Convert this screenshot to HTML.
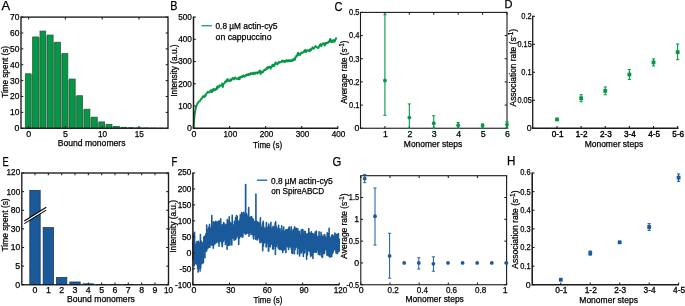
<!DOCTYPE html>
<html><head><meta charset="utf-8"><title>Figure</title>
<style>
html,body{margin:0;padding:0;background:#fff;}
svg{display:block;font-family:'Liberation Sans', sans-serif;}
text{stroke:#000;stroke-width:0.25px;}
</style></head>
<body>
<svg width="685" height="306" viewBox="0 0 685 306">
<rect width="685" height="306" fill="#fff"/>
<text x="1.40" y="10.00" font-size="12.9" text-anchor="start" fill="#000" textLength="8.60" lengthAdjust="spacingAndGlyphs">A</text>
<rect x="28.15" y="74.19" width="7.36" height="54.06" fill="#a9aeab"/>
<rect x="35.51" y="37.35" width="7.36" height="90.90" fill="#a9aeab"/>
<rect x="42.87" y="35.44" width="7.36" height="92.81" fill="#a9aeab"/>
<rect x="50.23" y="42.59" width="7.36" height="85.66" fill="#a9aeab"/>
<rect x="57.59" y="54.02" width="7.36" height="74.23" fill="#a9aeab"/>
<rect x="64.95" y="79.43" width="7.36" height="48.82" fill="#a9aeab"/>
<rect x="72.31" y="96.10" width="7.36" height="32.15" fill="#a9aeab"/>
<rect x="79.67" y="109.60" width="7.36" height="18.65" fill="#a9aeab"/>
<rect x="87.03" y="117.54" width="7.36" height="10.71" fill="#a9aeab"/>
<rect x="94.39" y="122.30" width="7.36" height="5.95" fill="#a9aeab"/>
<rect x="101.75" y="124.68" width="7.36" height="3.57" fill="#a9aeab"/>
<rect x="109.11" y="126.74" width="7.36" height="1.51" fill="#a9aeab"/>
<rect x="116.47" y="127.70" width="7.36" height="0.55" fill="#a9aeab"/>
<rect x="123.83" y="128.09" width="7.36" height="0.16" fill="#a9aeab"/>
<rect x="131.19" y="128.25" width="7.36" height="-0.00" fill="#a9aeab"/>
<rect x="138.55" y="128.33" width="7.36" height="-0.08" fill="#a9aeab"/>
<rect x="145.91" y="128.41" width="7.36" height="-0.16" fill="#a9aeab"/>
<rect x="153.27" y="128.49" width="7.36" height="-0.24" fill="#a9aeab"/>
<rect x="25.28" y="73.79" width="5.75" height="54.46" fill="#039846" stroke="#1f5c3a" stroke-width="0.75"/>
<rect x="32.64" y="36.95" width="5.75" height="91.30" fill="#039846" stroke="#1f5c3a" stroke-width="0.75"/>
<rect x="40.00" y="31.07" width="5.75" height="97.18" fill="#039846" stroke="#1f5c3a" stroke-width="0.75"/>
<rect x="47.36" y="35.04" width="5.75" height="93.21" fill="#039846" stroke="#1f5c3a" stroke-width="0.75"/>
<rect x="54.72" y="42.19" width="5.75" height="86.06" fill="#039846" stroke="#1f5c3a" stroke-width="0.75"/>
<rect x="62.08" y="53.62" width="5.75" height="74.63" fill="#039846" stroke="#1f5c3a" stroke-width="0.75"/>
<rect x="69.44" y="79.03" width="5.75" height="49.22" fill="#039846" stroke="#1f5c3a" stroke-width="0.75"/>
<rect x="76.80" y="95.70" width="5.75" height="32.55" fill="#039846" stroke="#1f5c3a" stroke-width="0.75"/>
<rect x="84.16" y="109.20" width="5.75" height="19.05" fill="#039846" stroke="#1f5c3a" stroke-width="0.75"/>
<rect x="91.52" y="117.14" width="5.75" height="11.12" fill="#039846" stroke="#1f5c3a" stroke-width="0.75"/>
<rect x="98.88" y="121.90" width="5.75" height="6.35" fill="#039846" stroke="#1f5c3a" stroke-width="0.75"/>
<rect x="106.24" y="124.28" width="5.75" height="3.97" fill="#039846" stroke="#1f5c3a" stroke-width="0.75"/>
<rect x="113.60" y="126.34" width="5.75" height="1.91" fill="#039846" stroke="#1f5c3a" stroke-width="0.75"/>
<rect x="120.96" y="127.30" width="5.75" height="0.95" fill="#039846" stroke="#1f5c3a" stroke-width="0.75"/>
<rect x="128.31" y="127.69" width="5.75" height="0.56" fill="#039846" stroke="#1f5c3a" stroke-width="0.75"/>
<rect x="135.68" y="127.85" width="5.75" height="0.40" fill="#039846" stroke="#1f5c3a" stroke-width="0.75"/>
<rect x="143.03" y="127.93" width="5.75" height="0.32" fill="#039846" stroke="#1f5c3a" stroke-width="0.75"/>
<rect x="150.40" y="128.01" width="5.75" height="0.24" fill="#039846" stroke="#1f5c3a" stroke-width="0.75"/>
<rect x="157.76" y="128.09" width="5.75" height="0.16" fill="#039846" stroke="#1f5c3a" stroke-width="0.75"/>
<rect x="21.00" y="17.10" width="147.00" height="111.15" fill="none" stroke="#1a1a1a" stroke-width="1.35"/>
<line x1="21.00" y1="128.25" x2="23.30" y2="128.25" stroke="#1a1a1a" stroke-width="1.05" stroke-linecap="butt"/>
<line x1="168.00" y1="128.25" x2="165.70" y2="128.25" stroke="#1a1a1a" stroke-width="1.05" stroke-linecap="butt"/>
<text x="19.40" y="131.15" font-size="8.8" text-anchor="end" fill="#000">0</text>
<line x1="21.00" y1="112.37" x2="23.30" y2="112.37" stroke="#1a1a1a" stroke-width="1.05" stroke-linecap="butt"/>
<line x1="168.00" y1="112.37" x2="165.70" y2="112.37" stroke="#1a1a1a" stroke-width="1.05" stroke-linecap="butt"/>
<text x="19.40" y="115.27" font-size="8.8" text-anchor="end" fill="#000" textLength="9.40" lengthAdjust="spacingAndGlyphs">10</text>
<line x1="21.00" y1="96.49" x2="23.30" y2="96.49" stroke="#1a1a1a" stroke-width="1.05" stroke-linecap="butt"/>
<line x1="168.00" y1="96.49" x2="165.70" y2="96.49" stroke="#1a1a1a" stroke-width="1.05" stroke-linecap="butt"/>
<text x="19.40" y="99.39" font-size="8.8" text-anchor="end" fill="#000" textLength="9.40" lengthAdjust="spacingAndGlyphs">20</text>
<line x1="21.00" y1="80.61" x2="23.30" y2="80.61" stroke="#1a1a1a" stroke-width="1.05" stroke-linecap="butt"/>
<line x1="168.00" y1="80.61" x2="165.70" y2="80.61" stroke="#1a1a1a" stroke-width="1.05" stroke-linecap="butt"/>
<text x="19.40" y="83.51" font-size="8.8" text-anchor="end" fill="#000" textLength="9.40" lengthAdjust="spacingAndGlyphs">30</text>
<line x1="21.00" y1="64.74" x2="23.30" y2="64.74" stroke="#1a1a1a" stroke-width="1.05" stroke-linecap="butt"/>
<line x1="168.00" y1="64.74" x2="165.70" y2="64.74" stroke="#1a1a1a" stroke-width="1.05" stroke-linecap="butt"/>
<text x="19.40" y="67.64" font-size="8.8" text-anchor="end" fill="#000" textLength="9.40" lengthAdjust="spacingAndGlyphs">40</text>
<line x1="21.00" y1="48.86" x2="23.30" y2="48.86" stroke="#1a1a1a" stroke-width="1.05" stroke-linecap="butt"/>
<line x1="168.00" y1="48.86" x2="165.70" y2="48.86" stroke="#1a1a1a" stroke-width="1.05" stroke-linecap="butt"/>
<text x="19.40" y="51.76" font-size="8.8" text-anchor="end" fill="#000" textLength="9.40" lengthAdjust="spacingAndGlyphs">50</text>
<line x1="21.00" y1="32.98" x2="23.30" y2="32.98" stroke="#1a1a1a" stroke-width="1.05" stroke-linecap="butt"/>
<line x1="168.00" y1="32.98" x2="165.70" y2="32.98" stroke="#1a1a1a" stroke-width="1.05" stroke-linecap="butt"/>
<text x="19.40" y="35.88" font-size="8.8" text-anchor="end" fill="#000" textLength="9.40" lengthAdjust="spacingAndGlyphs">60</text>
<line x1="21.00" y1="17.10" x2="23.30" y2="17.10" stroke="#1a1a1a" stroke-width="1.05" stroke-linecap="butt"/>
<line x1="168.00" y1="17.10" x2="165.70" y2="17.10" stroke="#1a1a1a" stroke-width="1.05" stroke-linecap="butt"/>
<text x="19.40" y="19.50" font-size="8.8" text-anchor="end" fill="#000" textLength="9.40" lengthAdjust="spacingAndGlyphs">70</text>
<line x1="28.60" y1="128.25" x2="28.60" y2="125.95" stroke="#1a1a1a" stroke-width="1.05" stroke-linecap="butt"/>
<line x1="28.60" y1="17.10" x2="28.60" y2="19.40" stroke="#1a1a1a" stroke-width="1.05" stroke-linecap="butt"/>
<text x="28.60" y="137.45" font-size="8.8" text-anchor="middle" fill="#000">0</text>
<line x1="65.40" y1="128.25" x2="65.40" y2="125.95" stroke="#1a1a1a" stroke-width="1.05" stroke-linecap="butt"/>
<line x1="65.40" y1="17.10" x2="65.40" y2="19.40" stroke="#1a1a1a" stroke-width="1.05" stroke-linecap="butt"/>
<text x="65.40" y="137.45" font-size="8.8" text-anchor="middle" fill="#000">5</text>
<line x1="102.20" y1="128.25" x2="102.20" y2="125.95" stroke="#1a1a1a" stroke-width="1.05" stroke-linecap="butt"/>
<line x1="102.20" y1="17.10" x2="102.20" y2="19.40" stroke="#1a1a1a" stroke-width="1.05" stroke-linecap="butt"/>
<text x="102.50" y="137.45" font-size="8.8" text-anchor="middle" fill="#000" textLength="9.10" lengthAdjust="spacingAndGlyphs">10</text>
<line x1="139.00" y1="128.25" x2="139.00" y2="125.95" stroke="#1a1a1a" stroke-width="1.05" stroke-linecap="butt"/>
<line x1="139.00" y1="17.10" x2="139.00" y2="19.40" stroke="#1a1a1a" stroke-width="1.05" stroke-linecap="butt"/>
<text x="139.30" y="137.45" font-size="8.8" text-anchor="middle" fill="#000" textLength="9.10" lengthAdjust="spacingAndGlyphs">15</text>
<text x="7.70" y="71.90" font-size="8.2" text-anchor="middle" fill="#000" textLength="51.70" lengthAdjust="spacingAndGlyphs" transform="rotate(-90 7.70 71.90)">Time spent (s)</text>
<text x="91.60" y="146.00" font-size="8.8" text-anchor="middle" fill="#000" textLength="67.80" lengthAdjust="spacingAndGlyphs">Bound monomers</text>
<text x="170.20" y="10.30" font-size="12.9" text-anchor="start" fill="#000" textLength="7.20" lengthAdjust="spacingAndGlyphs">B</text>
<polyline fill="none" stroke="#039846" stroke-width="1.9" stroke-linejoin="round" points="193.5,128.2 193.9,123.0 194.2,118.7 194.6,114.9 194.9,112.7 195.3,110.6 195.6,108.7 196.0,107.4 196.4,106.0 196.7,105.1 197.1,104.2 197.4,103.8 197.8,103.0 198.1,102.8 198.5,102.1 198.9,101.5 199.2,101.4 199.6,101.3 199.9,101.2 200.3,100.3 200.6,99.6 201.0,99.1 201.4,98.5 201.7,98.7 202.1,98.0 202.4,97.2 202.8,96.3 203.1,96.6 203.5,96.3 203.9,96.9 204.2,96.2 204.6,96.9 204.9,96.6 205.3,94.7 205.6,95.8 206.0,94.2 206.4,93.6 206.7,93.6 207.1,92.9 207.4,92.4 207.8,91.7 208.1,92.1 208.5,92.4 208.9,92.5 209.2,92.6 209.6,91.9 209.9,92.0 210.3,90.5 210.6,91.8 211.0,91.7 211.4,91.5 211.7,92.1 212.1,89.6 212.4,91.4 212.8,90.8 213.1,90.6 213.5,88.9 213.9,90.6 214.2,89.3 214.6,89.9 214.9,89.7 215.3,89.9 215.6,88.9 216.0,89.5 216.4,88.9 216.7,88.2 217.1,86.7 217.4,88.8 217.8,87.0 218.1,86.3 218.5,86.9 218.9,86.5 219.2,86.8 219.6,85.2 219.9,85.4 220.3,85.6 220.6,85.7 221.0,85.5 221.4,85.3 221.7,85.6 222.1,83.5 222.4,85.1 222.8,87.0 223.1,85.4 223.5,84.5 223.9,83.5 224.2,83.3 224.6,83.0 224.9,82.4 225.3,81.5 225.6,82.0 226.0,82.0 226.4,80.2 226.7,80.2 227.1,81.2 227.4,79.2 227.8,79.2 228.1,80.0 228.5,80.8 228.9,80.2 229.2,80.6 229.6,80.9 229.9,81.2 230.3,80.8 230.6,79.3 231.0,79.7 231.4,80.5 231.7,79.4 232.1,79.2 232.4,78.5 232.8,77.9 233.1,78.5 233.5,78.7 233.9,78.7 234.2,79.4 234.6,78.5 234.9,77.4 235.3,77.7 235.6,78.1 236.0,78.3 236.4,78.7 236.7,78.9 237.1,78.6 237.4,78.8 237.8,78.5 238.1,79.1 238.5,78.0 238.9,77.6 239.2,78.3 239.6,79.3 239.9,78.2 240.3,76.8 240.6,77.3 241.0,77.4 241.4,77.4 241.7,76.5 242.1,77.1 242.4,76.0 242.8,76.3 243.1,75.5 243.5,75.7 243.9,76.0 244.2,76.9 244.6,76.8 244.9,76.3 245.3,75.4 245.6,75.2 246.0,75.7 246.4,75.1 246.7,74.4 247.1,74.7 247.4,75.1 247.8,75.2 248.1,74.3 248.5,74.0 248.9,74.9 249.2,74.3 249.6,74.6 249.9,74.8 250.3,73.5 250.6,73.1 251.0,73.9 251.4,73.7 251.7,73.3 252.1,73.8 252.4,73.6 252.8,73.0 253.1,74.4 253.5,73.6 253.9,72.8 254.2,72.6 254.6,73.8 254.9,73.2 255.3,73.7 255.6,72.9 256.0,72.5 256.4,72.5 256.7,73.2 257.1,73.4 257.4,72.5 257.8,73.2 258.1,72.6 258.5,72.2 258.9,72.6 259.2,70.9 259.6,71.6 259.9,70.5 260.3,72.9 260.6,74.0 261.0,72.2 261.4,71.5 261.7,71.7 262.1,71.5 262.4,72.6 262.8,72.1 263.1,72.1 263.5,71.4 263.9,70.2 264.2,70.0 264.6,69.6 264.9,70.1 265.3,70.1 265.6,69.6 266.0,69.5 266.4,68.3 266.7,69.1 267.1,67.5 267.4,68.6 267.8,67.6 268.1,68.3 268.5,66.9 268.9,67.2 269.2,67.0 269.6,66.6 269.9,67.3 270.3,67.8 270.6,68.7 271.0,66.7 271.4,67.0 271.7,67.0 272.1,66.4 272.4,64.6 272.8,66.3 273.1,65.6 273.5,65.6 273.9,64.8 274.2,66.0 274.6,65.5 274.9,64.3 275.3,63.0 275.6,62.3 276.0,63.5 276.4,63.4 276.7,63.4 277.1,64.2 277.4,64.5 277.8,63.1 278.1,62.7 278.5,62.8 278.9,61.8 279.2,62.9 279.6,62.3 279.9,62.3 280.3,62.4 280.6,62.0 281.0,62.0 281.4,61.9 281.7,61.8 282.1,60.5 282.4,61.5 282.8,60.9 283.1,60.9 283.5,61.6 283.9,61.1 284.2,61.9 284.6,60.9 284.9,61.7 285.3,61.9 285.6,61.4 286.0,60.7 286.4,60.3 286.7,60.0 287.1,60.6 287.4,61.4 287.8,60.7 288.1,60.5 288.5,61.3 288.9,60.2 289.2,60.2 289.6,61.0 289.9,60.3 290.3,61.2 290.6,61.2 291.0,60.3 291.4,61.1 291.7,60.4 292.1,60.9 292.4,59.6 292.8,60.0 293.1,59.4 293.5,60.3 293.9,59.8 294.2,58.6 294.6,58.3 294.9,59.7 295.3,58.0 295.6,56.9 296.0,57.1 296.4,55.6 296.7,56.4 297.1,55.9 297.4,54.5 297.8,53.4 298.1,52.7 298.5,53.8 298.9,55.0 299.2,54.0 299.6,54.8 299.9,54.2 300.3,54.7 300.6,53.3 301.0,52.7 301.4,52.5 301.7,52.8 302.1,52.9 302.4,53.0 302.8,52.5 303.1,52.3 303.5,51.9 303.9,52.2 304.2,50.7 304.6,50.9 304.9,50.2 305.3,49.8 305.6,51.0 306.0,52.1 306.4,50.5 306.7,50.8 307.1,50.5 307.4,50.5 307.8,50.2 308.1,50.9 308.5,50.4 308.9,50.4 309.2,50.0 309.6,51.3 309.9,49.7 310.3,49.2 310.6,50.3 311.0,50.1 311.4,49.4 311.7,48.6 312.1,48.5 312.4,47.4 312.8,47.8 313.1,48.7 313.5,48.8 313.9,47.8 314.2,48.2 314.6,47.2 314.9,46.6 315.3,46.5 315.6,46.1 316.0,46.7 316.4,46.8 316.7,47.2 317.1,47.3 317.4,48.0 317.8,47.6 318.1,47.7 318.5,47.9 318.9,46.8 319.2,46.0 319.6,46.1 319.9,44.8 320.3,44.5 320.6,44.1 321.0,45.1 321.4,46.1 321.7,45.1 322.1,44.6 322.4,44.1 322.8,43.9 323.1,43.2 323.5,43.8 323.9,43.4 324.2,44.2 324.6,45.6 324.9,44.9 325.3,43.0 325.6,44.3 326.0,43.0 326.4,43.4 326.7,43.4 327.1,43.0 327.4,42.6 327.8,43.1 328.1,42.6 328.5,42.0 328.9,41.3 329.2,42.1 329.6,40.7 329.9,39.7 330.3,38.8 330.6,40.9 331.0,40.9 331.4,42.2 331.7,41.2 332.1,40.5 332.4,41.3 332.8,41.9 333.1,40.9 333.5,40.0 333.9,40.5 334.2,40.3 334.6,41.7 334.9,41.1 335.3,40.0 335.6,39.5 336.0,38.1 336.4,39.3"/>
<path d="M193.50 16.60V128.25H338.30" fill="none" stroke="#1a1a1a" stroke-width="1.5" stroke-linejoin="miter"/>
<line x1="193.50" y1="128.25" x2="195.80" y2="128.25" stroke="#1a1a1a" stroke-width="1.05" stroke-linecap="butt"/>
<text x="191.90" y="131.15" font-size="8.8" text-anchor="end" fill="#000">0</text>
<line x1="193.50" y1="106.02" x2="195.80" y2="106.02" stroke="#1a1a1a" stroke-width="1.05" stroke-linecap="butt"/>
<text x="191.90" y="108.92" font-size="8.8" text-anchor="end" fill="#000" textLength="13.65" lengthAdjust="spacingAndGlyphs">100</text>
<line x1="193.50" y1="83.79" x2="195.80" y2="83.79" stroke="#1a1a1a" stroke-width="1.05" stroke-linecap="butt"/>
<text x="191.90" y="86.69" font-size="8.8" text-anchor="end" fill="#000" textLength="13.65" lengthAdjust="spacingAndGlyphs">200</text>
<line x1="193.50" y1="61.56" x2="195.80" y2="61.56" stroke="#1a1a1a" stroke-width="1.05" stroke-linecap="butt"/>
<text x="191.90" y="64.46" font-size="8.8" text-anchor="end" fill="#000" textLength="13.65" lengthAdjust="spacingAndGlyphs">300</text>
<line x1="193.50" y1="39.33" x2="195.80" y2="39.33" stroke="#1a1a1a" stroke-width="1.05" stroke-linecap="butt"/>
<text x="191.90" y="42.23" font-size="8.8" text-anchor="end" fill="#000" textLength="13.65" lengthAdjust="spacingAndGlyphs">400</text>
<line x1="193.50" y1="17.10" x2="195.80" y2="17.10" stroke="#1a1a1a" stroke-width="1.05" stroke-linecap="butt"/>
<text x="191.90" y="19.50" font-size="8.8" text-anchor="end" fill="#000" textLength="13.65" lengthAdjust="spacingAndGlyphs">500</text>
<line x1="193.50" y1="128.25" x2="193.50" y2="125.95" stroke="#1a1a1a" stroke-width="1.05" stroke-linecap="butt"/>
<text x="194.00" y="137.45" font-size="8.8" text-anchor="middle" fill="#000">0</text>
<line x1="229.57" y1="128.25" x2="229.57" y2="125.95" stroke="#1a1a1a" stroke-width="1.05" stroke-linecap="butt"/>
<text x="230.38" y="137.45" font-size="8.8" text-anchor="middle" fill="#000" textLength="13.65" lengthAdjust="spacingAndGlyphs">100</text>
<line x1="265.65" y1="128.25" x2="265.65" y2="125.95" stroke="#1a1a1a" stroke-width="1.05" stroke-linecap="butt"/>
<text x="266.45" y="137.45" font-size="8.8" text-anchor="middle" fill="#000" textLength="13.65" lengthAdjust="spacingAndGlyphs">200</text>
<line x1="301.73" y1="128.25" x2="301.73" y2="125.95" stroke="#1a1a1a" stroke-width="1.05" stroke-linecap="butt"/>
<text x="302.53" y="137.45" font-size="8.8" text-anchor="middle" fill="#000" textLength="13.65" lengthAdjust="spacingAndGlyphs">300</text>
<line x1="337.80" y1="128.25" x2="337.80" y2="125.95" stroke="#1a1a1a" stroke-width="1.05" stroke-linecap="butt"/>
<text x="338.60" y="137.45" font-size="8.8" text-anchor="middle" fill="#000" textLength="13.65" lengthAdjust="spacingAndGlyphs">400</text>
<text x="177.00" y="70.60" font-size="8.2" text-anchor="middle" fill="#000" textLength="52.30" lengthAdjust="spacingAndGlyphs" transform="rotate(-90 177.00 70.60)">Intensity (a.u.)</text>
<text x="267.60" y="147.60" font-size="8.8" text-anchor="middle" fill="#000" textLength="29.10" lengthAdjust="spacingAndGlyphs">Time (s)</text>
<line x1="201.60" y1="25.70" x2="211.80" y2="25.70" stroke="#28a75f" stroke-width="1.4" stroke-linecap="butt"/>
<text y="29.0" font-size="8.8" fill="#000"><tspan x="215.5" textLength="25.4" lengthAdjust="spacingAndGlyphs">0.8 µM</tspan> <tspan x="243.3" textLength="34.1" lengthAdjust="spacingAndGlyphs">actin-cy5</tspan></text>
<text x="215.60" y="39.70" font-size="8.8" text-anchor="start" fill="#000" textLength="55.90" lengthAdjust="spacingAndGlyphs">on cappuccino</text>
<text x="334.60" y="10.50" font-size="12.9" text-anchor="start" fill="#000" textLength="8.00" lengthAdjust="spacingAndGlyphs">C</text>
<rect x="360.50" y="12.40" width="146.50" height="115.85" fill="none" stroke="#1a1a1a" stroke-width="1.1"/>
<line x1="360.50" y1="128.25" x2="362.80" y2="128.25" stroke="#1a1a1a" stroke-width="1.05" stroke-linecap="butt"/>
<line x1="507.00" y1="128.25" x2="504.70" y2="128.25" stroke="#1a1a1a" stroke-width="1.05" stroke-linecap="butt"/>
<text x="359.50" y="131.15" font-size="8.8" text-anchor="end" fill="#000">0</text>
<line x1="360.50" y1="105.08" x2="362.80" y2="105.08" stroke="#1a1a1a" stroke-width="1.05" stroke-linecap="butt"/>
<line x1="507.00" y1="105.08" x2="504.70" y2="105.08" stroke="#1a1a1a" stroke-width="1.05" stroke-linecap="butt"/>
<text x="359.50" y="107.98" font-size="8.8" text-anchor="end" fill="#000" textLength="10.40" lengthAdjust="spacingAndGlyphs">0.1</text>
<line x1="360.50" y1="81.91" x2="362.80" y2="81.91" stroke="#1a1a1a" stroke-width="1.05" stroke-linecap="butt"/>
<line x1="507.00" y1="81.91" x2="504.70" y2="81.91" stroke="#1a1a1a" stroke-width="1.05" stroke-linecap="butt"/>
<text x="359.50" y="84.81" font-size="8.8" text-anchor="end" fill="#000" textLength="10.40" lengthAdjust="spacingAndGlyphs">0.2</text>
<line x1="360.50" y1="58.74" x2="362.80" y2="58.74" stroke="#1a1a1a" stroke-width="1.05" stroke-linecap="butt"/>
<line x1="507.00" y1="58.74" x2="504.70" y2="58.74" stroke="#1a1a1a" stroke-width="1.05" stroke-linecap="butt"/>
<text x="359.50" y="61.64" font-size="8.8" text-anchor="end" fill="#000" textLength="10.40" lengthAdjust="spacingAndGlyphs">0.3</text>
<line x1="360.50" y1="35.57" x2="362.80" y2="35.57" stroke="#1a1a1a" stroke-width="1.05" stroke-linecap="butt"/>
<line x1="507.00" y1="35.57" x2="504.70" y2="35.57" stroke="#1a1a1a" stroke-width="1.05" stroke-linecap="butt"/>
<text x="359.50" y="38.47" font-size="8.8" text-anchor="end" fill="#000" textLength="10.40" lengthAdjust="spacingAndGlyphs">0.4</text>
<line x1="360.50" y1="12.40" x2="362.80" y2="12.40" stroke="#1a1a1a" stroke-width="1.05" stroke-linecap="butt"/>
<line x1="507.00" y1="12.40" x2="504.70" y2="12.40" stroke="#1a1a1a" stroke-width="1.05" stroke-linecap="butt"/>
<text x="359.50" y="14.80" font-size="8.8" text-anchor="end" fill="#000" textLength="10.40" lengthAdjust="spacingAndGlyphs">0.5</text>
<line x1="384.92" y1="128.25" x2="384.92" y2="125.95" stroke="#1a1a1a" stroke-width="1.05" stroke-linecap="butt"/>
<line x1="384.92" y1="12.40" x2="384.92" y2="14.70" stroke="#1a1a1a" stroke-width="1.05" stroke-linecap="butt"/>
<text x="385.42" y="137.45" font-size="8.8" text-anchor="middle" fill="#000">1</text>
<line x1="409.33" y1="128.25" x2="409.33" y2="125.95" stroke="#1a1a1a" stroke-width="1.05" stroke-linecap="butt"/>
<line x1="409.33" y1="12.40" x2="409.33" y2="14.70" stroke="#1a1a1a" stroke-width="1.05" stroke-linecap="butt"/>
<text x="409.83" y="137.45" font-size="8.8" text-anchor="middle" fill="#000">2</text>
<line x1="433.75" y1="128.25" x2="433.75" y2="125.95" stroke="#1a1a1a" stroke-width="1.05" stroke-linecap="butt"/>
<line x1="433.75" y1="12.40" x2="433.75" y2="14.70" stroke="#1a1a1a" stroke-width="1.05" stroke-linecap="butt"/>
<text x="434.25" y="137.45" font-size="8.8" text-anchor="middle" fill="#000">3</text>
<line x1="458.17" y1="128.25" x2="458.17" y2="125.95" stroke="#1a1a1a" stroke-width="1.05" stroke-linecap="butt"/>
<line x1="458.17" y1="12.40" x2="458.17" y2="14.70" stroke="#1a1a1a" stroke-width="1.05" stroke-linecap="butt"/>
<text x="458.67" y="137.45" font-size="8.8" text-anchor="middle" fill="#000">4</text>
<line x1="482.58" y1="128.25" x2="482.58" y2="125.95" stroke="#1a1a1a" stroke-width="1.05" stroke-linecap="butt"/>
<line x1="482.58" y1="12.40" x2="482.58" y2="14.70" stroke="#1a1a1a" stroke-width="1.05" stroke-linecap="butt"/>
<text x="483.08" y="137.45" font-size="8.8" text-anchor="middle" fill="#000">5</text>
<line x1="507.00" y1="128.25" x2="507.00" y2="125.95" stroke="#1a1a1a" stroke-width="1.05" stroke-linecap="butt"/>
<line x1="507.00" y1="12.40" x2="507.00" y2="14.70" stroke="#1a1a1a" stroke-width="1.05" stroke-linecap="butt"/>
<text x="507.50" y="137.45" font-size="8.8" text-anchor="middle" fill="#000">6</text>
<line x1="384.92" y1="115.27" x2="384.92" y2="14.72" stroke="#039846" stroke-width="1.1" stroke-linecap="butt"/>
<line x1="383.32" y1="115.27" x2="386.52" y2="115.27" stroke="#039846" stroke-width="0.9900000000000001" stroke-linecap="butt"/>
<line x1="383.32" y1="14.72" x2="386.52" y2="14.72" stroke="#039846" stroke-width="0.9900000000000001" stroke-linecap="butt"/>
<circle cx="384.92" cy="80.52" r="1.9" fill="#039846"/>
<line x1="409.33" y1="128.25" x2="409.33" y2="103.92" stroke="#039846" stroke-width="1.1" stroke-linecap="butt"/>
<line x1="407.73" y1="128.25" x2="410.93" y2="128.25" stroke="#039846" stroke-width="0.9900000000000001" stroke-linecap="butt"/>
<line x1="407.73" y1="103.92" x2="410.93" y2="103.92" stroke="#039846" stroke-width="0.9900000000000001" stroke-linecap="butt"/>
<circle cx="409.33" cy="117.59" r="1.9" fill="#039846"/>
<line x1="433.75" y1="128.25" x2="433.75" y2="115.74" stroke="#039846" stroke-width="1.1" stroke-linecap="butt"/>
<line x1="432.15" y1="128.25" x2="435.35" y2="128.25" stroke="#039846" stroke-width="0.9900000000000001" stroke-linecap="butt"/>
<line x1="432.15" y1="115.74" x2="435.35" y2="115.74" stroke="#039846" stroke-width="0.9900000000000001" stroke-linecap="butt"/>
<circle cx="433.75" cy="123.27" r="1.9" fill="#039846"/>
<line x1="458.17" y1="128.25" x2="458.17" y2="122.46" stroke="#039846" stroke-width="1.1" stroke-linecap="butt"/>
<line x1="456.57" y1="128.25" x2="459.77" y2="128.25" stroke="#039846" stroke-width="0.9900000000000001" stroke-linecap="butt"/>
<line x1="456.57" y1="122.46" x2="459.77" y2="122.46" stroke="#039846" stroke-width="0.9900000000000001" stroke-linecap="butt"/>
<circle cx="458.17" cy="125.24" r="1.9" fill="#039846"/>
<line x1="482.58" y1="128.25" x2="482.58" y2="123.85" stroke="#039846" stroke-width="1.1" stroke-linecap="butt"/>
<line x1="480.98" y1="128.25" x2="484.18" y2="128.25" stroke="#039846" stroke-width="0.9900000000000001" stroke-linecap="butt"/>
<line x1="480.98" y1="123.85" x2="484.18" y2="123.85" stroke="#039846" stroke-width="0.9900000000000001" stroke-linecap="butt"/>
<circle cx="482.58" cy="125.70" r="1.9" fill="#039846"/>
<line x1="507.00" y1="128.25" x2="507.00" y2="121.99" stroke="#039846" stroke-width="1.1" stroke-linecap="butt"/>
<line x1="505.40" y1="128.25" x2="508.60" y2="128.25" stroke="#039846" stroke-width="0.9900000000000001" stroke-linecap="butt"/>
<line x1="505.40" y1="121.99" x2="508.60" y2="121.99" stroke="#039846" stroke-width="0.9900000000000001" stroke-linecap="butt"/>
<circle cx="507.00" cy="124.54" r="1.9" fill="#039846"/>
<text x="347.4" y="72.1" font-size="8.6" text-anchor="middle" fill="#000" transform="rotate(-90 347.4 72.1)" textLength="63.1" lengthAdjust="spacingAndGlyphs">Average rate (s<tspan dy="-3.3" font-size="6.3">-1</tspan><tspan dy="3.3">)</tspan></text>
<text x="433.00" y="146.50" font-size="8.8" text-anchor="middle" fill="#000" textLength="58.30" lengthAdjust="spacingAndGlyphs">Monomer steps</text>
<text x="504.50" y="8.20" font-size="11.2" text-anchor="start" fill="#000" textLength="8.00" lengthAdjust="spacingAndGlyphs">D</text>
<path d="M532.70 15.80V128.25H678.50" fill="none" stroke="#1a1a1a" stroke-width="1.3" stroke-linejoin="miter"/>
<line x1="532.70" y1="128.25" x2="535.00" y2="128.25" stroke="#1a1a1a" stroke-width="1.05" stroke-linecap="butt"/>
<text x="531.70" y="131.15" font-size="8.8" text-anchor="end" fill="#000">0</text>
<line x1="532.70" y1="100.26" x2="535.00" y2="100.26" stroke="#1a1a1a" stroke-width="1.05" stroke-linecap="butt"/>
<text x="531.70" y="103.16" font-size="8.8" text-anchor="end" fill="#000" textLength="14.21" lengthAdjust="spacingAndGlyphs">0.05</text>
<line x1="532.70" y1="72.28" x2="535.00" y2="72.28" stroke="#1a1a1a" stroke-width="1.05" stroke-linecap="butt"/>
<text x="531.70" y="75.18" font-size="8.8" text-anchor="end" fill="#000" textLength="10.40" lengthAdjust="spacingAndGlyphs">0.1</text>
<line x1="532.70" y1="44.29" x2="535.00" y2="44.29" stroke="#1a1a1a" stroke-width="1.05" stroke-linecap="butt"/>
<text x="531.70" y="47.19" font-size="8.8" text-anchor="end" fill="#000" textLength="14.21" lengthAdjust="spacingAndGlyphs">0.15</text>
<line x1="532.70" y1="16.30" x2="535.00" y2="16.30" stroke="#1a1a1a" stroke-width="1.05" stroke-linecap="butt"/>
<text x="531.70" y="18.70" font-size="8.8" text-anchor="end" fill="#000" textLength="10.40" lengthAdjust="spacingAndGlyphs">0.2</text>
<line x1="557.00" y1="128.25" x2="557.00" y2="125.95" stroke="#1a1a1a" stroke-width="1.05" stroke-linecap="butt"/>
<text x="557.60" y="137.45" font-size="8.8" text-anchor="middle" fill="#000" textLength="11.83" lengthAdjust="spacingAndGlyphs" style="stroke-width:0.4px">0-1</text>
<line x1="581.13" y1="128.25" x2="581.13" y2="125.95" stroke="#1a1a1a" stroke-width="1.05" stroke-linecap="butt"/>
<text x="581.73" y="137.45" font-size="8.8" text-anchor="middle" fill="#000" textLength="11.83" lengthAdjust="spacingAndGlyphs" style="stroke-width:0.4px">1-2</text>
<line x1="605.26" y1="128.25" x2="605.26" y2="125.95" stroke="#1a1a1a" stroke-width="1.05" stroke-linecap="butt"/>
<text x="605.86" y="137.45" font-size="8.8" text-anchor="middle" fill="#000" textLength="11.83" lengthAdjust="spacingAndGlyphs" style="stroke-width:0.4px">2-3</text>
<line x1="629.39" y1="128.25" x2="629.39" y2="125.95" stroke="#1a1a1a" stroke-width="1.05" stroke-linecap="butt"/>
<text x="629.99" y="137.45" font-size="8.8" text-anchor="middle" fill="#000" textLength="11.83" lengthAdjust="spacingAndGlyphs" style="stroke-width:0.4px">3-4</text>
<line x1="653.52" y1="128.25" x2="653.52" y2="125.95" stroke="#1a1a1a" stroke-width="1.05" stroke-linecap="butt"/>
<text x="654.12" y="137.45" font-size="8.8" text-anchor="middle" fill="#000" textLength="11.83" lengthAdjust="spacingAndGlyphs" style="stroke-width:0.4px">4-5</text>
<line x1="677.65" y1="128.25" x2="677.65" y2="125.95" stroke="#1a1a1a" stroke-width="1.05" stroke-linecap="butt"/>
<text x="678.25" y="137.45" font-size="8.8" text-anchor="middle" fill="#000" textLength="11.83" lengthAdjust="spacingAndGlyphs" style="stroke-width:0.4px">5-6</text>
<rect x="555.10" y="117.51" width="3.80" height="3.80" fill="#039846"/>
<line x1="581.13" y1="101.77" x2="581.13" y2="94.72" stroke="#039846" stroke-width="1.1" stroke-linecap="butt"/>
<line x1="579.53" y1="101.77" x2="582.73" y2="101.77" stroke="#039846" stroke-width="0.9900000000000001" stroke-linecap="butt"/>
<line x1="579.53" y1="94.72" x2="582.73" y2="94.72" stroke="#039846" stroke-width="0.9900000000000001" stroke-linecap="butt"/>
<rect x="579.23" y="96.35" width="3.80" height="3.80" fill="#039846"/>
<line x1="605.26" y1="94.78" x2="605.26" y2="86.94" stroke="#039846" stroke-width="1.1" stroke-linecap="butt"/>
<line x1="603.66" y1="94.78" x2="606.86" y2="94.78" stroke="#039846" stroke-width="0.9900000000000001" stroke-linecap="butt"/>
<line x1="603.66" y1="86.94" x2="606.86" y2="86.94" stroke="#039846" stroke-width="0.9900000000000001" stroke-linecap="butt"/>
<rect x="603.36" y="88.96" width="3.80" height="3.80" fill="#039846"/>
<line x1="629.39" y1="79.55" x2="629.39" y2="69.48" stroke="#039846" stroke-width="1.1" stroke-linecap="butt"/>
<line x1="627.79" y1="79.55" x2="630.99" y2="79.55" stroke="#039846" stroke-width="0.9900000000000001" stroke-linecap="butt"/>
<line x1="627.79" y1="69.48" x2="630.99" y2="69.48" stroke="#039846" stroke-width="0.9900000000000001" stroke-linecap="butt"/>
<rect x="627.49" y="72.61" width="3.80" height="3.80" fill="#039846"/>
<line x1="653.52" y1="65.95" x2="653.52" y2="58.90" stroke="#039846" stroke-width="1.1" stroke-linecap="butt"/>
<line x1="651.92" y1="65.95" x2="655.12" y2="65.95" stroke="#039846" stroke-width="0.9900000000000001" stroke-linecap="butt"/>
<line x1="651.92" y1="58.90" x2="655.12" y2="58.90" stroke="#039846" stroke-width="0.9900000000000001" stroke-linecap="butt"/>
<rect x="651.62" y="60.52" width="3.80" height="3.80" fill="#039846"/>
<line x1="677.65" y1="59.68" x2="677.65" y2="44.01" stroke="#039846" stroke-width="1.1" stroke-linecap="butt"/>
<line x1="676.05" y1="59.68" x2="679.25" y2="59.68" stroke="#039846" stroke-width="0.9900000000000001" stroke-linecap="butt"/>
<line x1="676.05" y1="44.01" x2="679.25" y2="44.01" stroke="#039846" stroke-width="0.9900000000000001" stroke-linecap="butt"/>
<rect x="675.75" y="50.22" width="3.80" height="3.80" fill="#039846"/>
<text x="515.9" y="67.7" font-size="8.4" text-anchor="middle" fill="#000" transform="rotate(-90 515.9 67.7)" textLength="77.4" lengthAdjust="spacingAndGlyphs">Association rate (s<tspan dy="-3.3" font-size="6.3">-1</tspan><tspan dy="3.3">)</tspan></text>
<text x="613.90" y="146.70" font-size="8.8" text-anchor="middle" fill="#000" textLength="58.50" lengthAdjust="spacingAndGlyphs">Monomer steps</text>
<text x="2.50" y="165.50" font-size="12.9" text-anchor="start" fill="#000" textLength="6.20" lengthAdjust="spacingAndGlyphs">E</text>
<line x1="21.80" y1="284.75" x2="24.10" y2="284.75" stroke="#1a1a1a" stroke-width="1.05" stroke-linecap="butt"/>
<line x1="168.50" y1="284.75" x2="166.20" y2="284.75" stroke="#1a1a1a" stroke-width="1.05" stroke-linecap="butt"/>
<text x="20.20" y="287.65" font-size="8.8" text-anchor="end" fill="#000">0</text>
<line x1="21.80" y1="266.12" x2="24.10" y2="266.12" stroke="#1a1a1a" stroke-width="1.05" stroke-linecap="butt"/>
<line x1="168.50" y1="266.12" x2="166.20" y2="266.12" stroke="#1a1a1a" stroke-width="1.05" stroke-linecap="butt"/>
<text x="20.20" y="269.02" font-size="8.8" text-anchor="end" fill="#000">5</text>
<line x1="21.80" y1="247.50" x2="24.10" y2="247.50" stroke="#1a1a1a" stroke-width="1.05" stroke-linecap="butt"/>
<line x1="168.50" y1="247.50" x2="166.20" y2="247.50" stroke="#1a1a1a" stroke-width="1.05" stroke-linecap="butt"/>
<text x="20.20" y="250.40" font-size="8.8" text-anchor="end" fill="#000" textLength="9.40" lengthAdjust="spacingAndGlyphs">10</text>
<line x1="21.80" y1="228.88" x2="24.10" y2="228.88" stroke="#1a1a1a" stroke-width="1.05" stroke-linecap="butt"/>
<line x1="168.50" y1="228.88" x2="166.20" y2="228.88" stroke="#1a1a1a" stroke-width="1.05" stroke-linecap="butt"/>
<text x="20.20" y="231.78" font-size="8.8" text-anchor="end" fill="#000" textLength="9.40" lengthAdjust="spacingAndGlyphs">30</text>
<line x1="21.80" y1="210.25" x2="24.10" y2="210.25" stroke="#1a1a1a" stroke-width="1.05" stroke-linecap="butt"/>
<line x1="168.50" y1="210.25" x2="166.20" y2="210.25" stroke="#1a1a1a" stroke-width="1.05" stroke-linecap="butt"/>
<text x="20.20" y="213.15" font-size="8.8" text-anchor="end" fill="#000" textLength="9.40" lengthAdjust="spacingAndGlyphs">80</text>
<line x1="21.80" y1="191.62" x2="24.10" y2="191.62" stroke="#1a1a1a" stroke-width="1.05" stroke-linecap="butt"/>
<line x1="168.50" y1="191.62" x2="166.20" y2="191.62" stroke="#1a1a1a" stroke-width="1.05" stroke-linecap="butt"/>
<text x="20.20" y="194.53" font-size="8.8" text-anchor="end" fill="#000" textLength="13.65" lengthAdjust="spacingAndGlyphs">100</text>
<line x1="21.80" y1="173.00" x2="24.10" y2="173.00" stroke="#1a1a1a" stroke-width="1.05" stroke-linecap="butt"/>
<line x1="168.50" y1="173.00" x2="166.20" y2="173.00" stroke="#1a1a1a" stroke-width="1.05" stroke-linecap="butt"/>
<text x="20.20" y="175.40" font-size="8.8" text-anchor="end" fill="#000" textLength="13.65" lengthAdjust="spacingAndGlyphs">120</text>
<line x1="35.00" y1="284.75" x2="35.00" y2="282.45" stroke="#1a1a1a" stroke-width="1.05" stroke-linecap="butt"/>
<line x1="35.00" y1="173.00" x2="35.00" y2="175.30" stroke="#1a1a1a" stroke-width="1.05" stroke-linecap="butt"/>
<text x="35.00" y="292.55" font-size="8.8" text-anchor="middle" fill="#000">0</text>
<line x1="48.33" y1="284.75" x2="48.33" y2="282.45" stroke="#1a1a1a" stroke-width="1.05" stroke-linecap="butt"/>
<line x1="48.33" y1="173.00" x2="48.33" y2="175.30" stroke="#1a1a1a" stroke-width="1.05" stroke-linecap="butt"/>
<text x="48.33" y="292.55" font-size="8.8" text-anchor="middle" fill="#000">1</text>
<line x1="61.66" y1="284.75" x2="61.66" y2="282.45" stroke="#1a1a1a" stroke-width="1.05" stroke-linecap="butt"/>
<line x1="61.66" y1="173.00" x2="61.66" y2="175.30" stroke="#1a1a1a" stroke-width="1.05" stroke-linecap="butt"/>
<text x="61.66" y="292.55" font-size="8.8" text-anchor="middle" fill="#000">2</text>
<line x1="74.99" y1="284.75" x2="74.99" y2="282.45" stroke="#1a1a1a" stroke-width="1.05" stroke-linecap="butt"/>
<line x1="74.99" y1="173.00" x2="74.99" y2="175.30" stroke="#1a1a1a" stroke-width="1.05" stroke-linecap="butt"/>
<text x="74.99" y="292.55" font-size="8.8" text-anchor="middle" fill="#000">3</text>
<line x1="88.32" y1="284.75" x2="88.32" y2="282.45" stroke="#1a1a1a" stroke-width="1.05" stroke-linecap="butt"/>
<line x1="88.32" y1="173.00" x2="88.32" y2="175.30" stroke="#1a1a1a" stroke-width="1.05" stroke-linecap="butt"/>
<text x="88.32" y="292.55" font-size="8.8" text-anchor="middle" fill="#000">4</text>
<line x1="101.65" y1="284.75" x2="101.65" y2="282.45" stroke="#1a1a1a" stroke-width="1.05" stroke-linecap="butt"/>
<line x1="101.65" y1="173.00" x2="101.65" y2="175.30" stroke="#1a1a1a" stroke-width="1.05" stroke-linecap="butt"/>
<text x="101.65" y="292.55" font-size="8.8" text-anchor="middle" fill="#000">5</text>
<line x1="114.98" y1="284.75" x2="114.98" y2="282.45" stroke="#1a1a1a" stroke-width="1.05" stroke-linecap="butt"/>
<line x1="114.98" y1="173.00" x2="114.98" y2="175.30" stroke="#1a1a1a" stroke-width="1.05" stroke-linecap="butt"/>
<text x="114.98" y="292.55" font-size="8.8" text-anchor="middle" fill="#000">6</text>
<line x1="128.31" y1="284.75" x2="128.31" y2="282.45" stroke="#1a1a1a" stroke-width="1.05" stroke-linecap="butt"/>
<line x1="128.31" y1="173.00" x2="128.31" y2="175.30" stroke="#1a1a1a" stroke-width="1.05" stroke-linecap="butt"/>
<text x="128.31" y="292.55" font-size="8.8" text-anchor="middle" fill="#000">7</text>
<line x1="141.64" y1="284.75" x2="141.64" y2="282.45" stroke="#1a1a1a" stroke-width="1.05" stroke-linecap="butt"/>
<line x1="141.64" y1="173.00" x2="141.64" y2="175.30" stroke="#1a1a1a" stroke-width="1.05" stroke-linecap="butt"/>
<text x="141.64" y="292.55" font-size="8.8" text-anchor="middle" fill="#000">8</text>
<line x1="154.97" y1="284.75" x2="154.97" y2="282.45" stroke="#1a1a1a" stroke-width="1.05" stroke-linecap="butt"/>
<line x1="154.97" y1="173.00" x2="154.97" y2="175.30" stroke="#1a1a1a" stroke-width="1.05" stroke-linecap="butt"/>
<text x="154.97" y="292.55" font-size="8.8" text-anchor="middle" fill="#000">9</text>
<line x1="168.30" y1="284.75" x2="168.30" y2="282.45" stroke="#1a1a1a" stroke-width="1.05" stroke-linecap="butt"/>
<line x1="168.30" y1="173.00" x2="168.30" y2="175.30" stroke="#1a1a1a" stroke-width="1.05" stroke-linecap="butt"/>
<text x="168.60" y="292.55" font-size="8.8" text-anchor="middle" fill="#000" textLength="9.10" lengthAdjust="spacingAndGlyphs">10</text>
<rect x="29.80" y="190.32" width="10.40" height="94.43" fill="#1b5a9a" stroke="#14304f" stroke-width="0.7"/>
<rect x="43.13" y="227.57" width="10.40" height="57.18" fill="#1b5a9a" stroke="#14304f" stroke-width="0.7"/>
<rect x="56.46" y="277.49" width="10.40" height="7.26" fill="#1b5a9a" stroke="#14304f" stroke-width="0.7"/>
<rect x="69.79" y="281.96" width="10.40" height="2.79" fill="#1b5a9a" stroke="#14304f" stroke-width="0.7"/>
<rect x="83.12" y="283.82" width="10.40" height="0.93" fill="#1b5a9a" stroke="#14304f" stroke-width="0.7"/>
<rect x="96.45" y="284.45" width="10.40" height="0.30" fill="#1b5a9a" stroke="#14304f" stroke-width="0.7"/>
<rect x="109.78" y="284.56" width="10.40" height="0.19" fill="#1b5a9a" stroke="#14304f" stroke-width="0.7"/>
<rect x="123.11" y="284.60" width="10.40" height="0.15" fill="#1b5a9a" stroke="#14304f" stroke-width="0.7"/>
<rect x="21.80" y="173.00" width="146.70" height="111.75" fill="none" stroke="#1a1a1a" stroke-width="1.35"/>
<path d="M24.3 221.1L46 207.4L46 209.9L24.3 223.3Z" fill="#fff"/>
<line x1="24.30" y1="221.00" x2="46.20" y2="207.20" stroke="#000" stroke-width="1.1" stroke-linecap="butt"/>
<line x1="24.30" y1="223.60" x2="46.20" y2="210.10" stroke="#000" stroke-width="1.1" stroke-linecap="butt"/>
<text x="7.70" y="224.90" font-size="8.2" text-anchor="middle" fill="#000" textLength="53.10" lengthAdjust="spacingAndGlyphs" transform="rotate(-90 7.70 224.90)">Time spent (s)</text>
<text x="100.90" y="302.30" font-size="8.8" text-anchor="middle" fill="#000" textLength="67.80" lengthAdjust="spacingAndGlyphs">Bound monomers</text>
<text x="171.40" y="165.50" font-size="12.9" text-anchor="start" fill="#000" textLength="5.80" lengthAdjust="spacingAndGlyphs">F</text>
<polyline fill="none" stroke="#1b5a9a" stroke-width="1.6" stroke-linejoin="round" points="192.9,258.3 192.9,247.1 193.0,242.8 193.0,253.7 193.1,259.6 193.1,250.8 193.2,247.1 193.2,242.9 193.3,259.3 193.3,260.0 193.4,246.1 193.4,247.9 193.4,240.6 193.5,244.6 193.5,252.4 193.6,253.7 193.6,234.0 193.7,254.1 193.7,257.7 193.8,260.3 193.8,251.8 193.9,251.6 193.9,255.2 194.0,253.4 194.0,251.2 194.0,248.4 194.1,245.8 194.1,252.1 194.2,266.0 194.2,249.0 194.3,263.7 194.3,255.3 194.4,264.3 194.4,254.4 194.5,259.8 194.5,253.2 194.5,232.3 194.6,255.3 194.6,249.4 194.7,264.2 194.7,257.3 194.8,250.9 194.8,256.1 194.9,253.0 194.9,254.8 195.0,262.4 195.0,251.8 195.0,261.1 195.1,243.1 195.1,259.2 195.2,251.2 195.2,255.8 195.3,249.5 195.3,260.0 195.4,249.3 195.4,256.8 195.5,247.6 195.5,251.9 195.6,255.2 195.6,261.4 195.6,251.1 195.7,253.1 195.7,245.4 195.8,258.8 195.8,252.7 195.9,253.1 195.9,254.6 196.0,255.1 196.0,255.3 196.1,260.5 196.1,263.3 196.1,259.3 196.2,252.8 196.2,246.8 196.3,250.4 196.3,249.9 196.4,251.8 196.4,252.4 196.5,255.8 196.5,252.0 196.6,245.5 196.6,259.2 196.6,261.7 196.7,244.4 196.7,255.6 196.8,251.0 196.8,251.6 196.9,264.7 196.9,241.6 197.0,245.9 197.0,256.3 197.1,252.7 197.1,256.7 197.2,263.3 197.2,258.3 197.2,255.2 197.3,250.4 197.3,253.0 197.4,257.1 197.4,248.8 197.5,262.3 197.5,252.4 197.6,250.3 197.6,259.2 197.7,268.8 197.7,263.1 197.7,255.8 197.8,253.9 197.8,247.4 197.9,263.6 197.9,257.2 198.0,253.1 198.0,258.2 198.1,272.1 198.1,252.0 198.2,242.5 198.2,250.7 198.2,262.8 198.3,259.6 198.3,255.6 198.4,241.3 198.4,253.1 198.5,256.2 198.5,247.1 198.6,257.4 198.6,245.2 198.7,261.1 198.7,259.8 198.8,252.3 198.8,247.9 198.8,252.6 198.9,254.8 198.9,268.0 199.0,261.1 199.0,260.4 199.1,259.9 199.1,252.9 199.2,258.6 199.2,251.7 199.3,256.0 199.3,258.6 199.3,255.7 199.4,253.8 199.4,251.1 199.5,259.3 199.5,257.8 199.6,264.8 199.6,246.4 199.7,247.4 199.7,257.4 199.8,259.2 199.8,263.8 199.8,255.2 199.9,254.9 199.9,242.8 200.0,254.6 200.0,260.9 200.1,271.1 200.1,247.4 200.2,254.9 200.2,265.8 200.3,254.8 200.3,265.6 200.4,234.5 200.4,248.8 200.4,252.1 200.5,256.5 200.5,268.4 200.6,256.1 200.6,264.6 200.7,251.5 200.7,268.0 200.8,260.4 200.8,247.5 200.9,244.8 200.9,261.8 200.9,263.8 201.0,249.2 201.0,249.2 201.1,260.3 201.1,258.4 201.2,258.3 201.2,261.2 201.3,258.0 201.3,246.3 201.4,249.6 201.4,241.3 201.4,254.1 201.5,254.3 201.5,259.3 201.6,254.1 201.6,261.1 201.7,263.8 201.7,248.9 201.8,244.4 201.8,247.9 201.9,244.8 201.9,251.2 202.0,256.9 202.0,252.0 202.0,254.6 202.1,258.9 202.1,262.3 202.2,261.0 202.2,252.1 202.3,251.1 202.3,254.7 202.4,243.3 202.4,250.6 202.5,248.2 202.5,244.3 202.5,256.3 202.6,263.0 202.6,246.8 202.7,255.2 202.7,243.2 202.8,248.8 202.8,244.7 202.9,246.0 202.9,262.6 203.0,246.0 203.0,254.0 203.0,254.4 203.1,252.3 203.1,245.1 203.2,244.3 203.2,243.4 203.3,258.9 203.3,252.5 203.4,262.8 203.4,249.3 203.5,245.0 203.5,252.9 203.6,246.8 203.6,246.7 203.6,242.1 203.7,252.6 203.7,252.5 203.8,251.9 203.8,237.1 203.9,240.8 203.9,247.7 204.0,245.6 204.0,246.1 204.1,245.4 204.1,247.6 204.1,248.2 204.2,253.4 204.2,249.7 204.3,236.2 204.3,242.6 204.4,245.1 204.4,246.6 204.5,244.8 204.5,243.0 204.6,248.7 204.6,243.8 204.6,243.4 204.7,249.0 204.7,249.2 204.8,250.3 204.8,250.6 204.9,239.2 204.9,257.8 205.0,245.7 205.0,247.6 205.1,247.5 205.1,243.3 205.2,237.3 205.2,243.2 205.2,244.4 205.3,247.0 205.3,244.1 205.4,238.0 205.4,245.4 205.5,249.7 205.5,250.2 205.6,249.2 205.6,250.8 205.7,236.4 205.7,240.6 205.7,243.9 205.8,234.1 205.8,246.1 205.9,237.9 205.9,237.6 206.0,250.9 206.0,250.8 206.1,247.1 206.1,236.6 206.2,234.3 206.2,248.5 206.2,235.5 206.3,243.5 206.3,243.5 206.4,244.3 206.4,242.9 206.5,251.3 206.5,246.6 206.6,247.8 206.6,237.9 206.7,228.7 206.7,225.0 206.8,242.3 206.8,250.1 206.8,242.5 206.9,245.4 206.9,228.8 207.0,236.7 207.0,244.0 207.1,234.6 207.1,236.8 207.2,248.9 207.2,242.7 207.3,241.0 207.3,239.4 207.3,238.7 207.4,241.3 207.4,238.3 207.5,242.6 207.5,244.3 207.6,230.7 207.6,237.1 207.7,236.6 207.7,248.0 207.8,239.9 207.8,234.3 207.9,246.1 207.9,232.6 207.9,240.9 208.0,236.4 208.0,239.3 208.1,237.3 208.1,231.7 208.2,240.7 208.2,229.6 208.3,242.7 208.3,243.5 208.4,234.2 208.4,244.1 208.4,240.1 208.5,232.9 208.5,231.2 208.6,247.8 208.6,235.0 208.7,227.2 208.7,231.0 208.8,239.0 208.8,240.9 208.9,239.2 208.9,243.9 208.9,238.9 209.0,238.4 209.0,238.1 209.1,230.6 209.1,238.4 209.2,245.2 209.2,231.2 209.3,242.9 209.3,239.4 209.4,237.6 209.4,238.7 209.5,242.4 209.5,238.1 209.5,224.6 209.6,240.0 209.6,237.4 209.7,230.4 209.7,232.4 209.8,232.3 209.8,231.7 209.9,247.3 209.9,241.2 210.0,235.6 210.0,233.6 210.0,229.1 210.1,233.6 210.1,237.5 210.2,236.0 210.2,237.3 210.3,234.7 210.3,232.3 210.4,237.9 210.4,240.5 210.5,240.7 210.5,229.8 210.5,228.8 210.6,230.3 210.6,231.1 210.7,231.2 210.7,235.7 210.8,232.0 210.8,241.4 210.9,236.7 210.9,239.6 211.0,231.5 211.0,238.7 211.1,236.0 211.1,233.2 211.1,227.9 211.2,239.7 211.2,240.4 211.3,230.8 211.3,241.3 211.4,232.7 211.4,238.3 211.5,235.7 211.5,245.1 211.6,231.1 211.6,237.7 211.6,239.9 211.7,223.5 211.7,231.0 211.8,215.6 211.8,232.6 211.9,236.7 211.9,234.1 212.0,225.9 212.0,234.8 212.1,232.1 212.1,231.7 212.1,239.5 212.2,233.8 212.2,237.2 212.3,241.2 212.3,229.6 212.4,230.7 212.4,233.9 212.5,239.3 212.5,245.2 212.6,231.6 212.6,234.8 212.7,243.5 212.7,234.6 212.7,242.6 212.8,234.4 212.8,233.5 212.9,232.3 212.9,233.1 213.0,233.3 213.0,240.5 213.1,236.3 213.1,237.0 213.2,235.5 213.2,232.8 213.2,230.9 213.3,225.3 213.3,248.2 213.4,232.1 213.4,235.3 213.5,221.9 213.5,229.2 213.6,243.2 213.6,232.0 213.7,237.0 213.7,228.8 213.7,239.9 213.8,234.8 213.8,234.9 213.9,234.7 213.9,237.4 214.0,244.2 214.0,231.7 214.1,228.8 214.1,234.6 214.2,239.7 214.2,233.1 214.3,231.1 214.3,235.1 214.3,234.3 214.4,226.5 214.4,240.2 214.5,237.2 214.5,244.5 214.6,237.9 214.6,238.2 214.7,239.3 214.7,237.9 214.8,224.4 214.8,235.2 214.8,234.8 214.9,222.3 214.9,234.5 215.0,243.5 215.0,232.0 215.1,239.2 215.1,225.3 215.2,240.8 215.2,237.3 215.3,242.8 215.3,233.6 215.3,239.6 215.4,234.5 215.4,236.1 215.5,237.4 215.5,229.0 215.6,229.1 215.6,233.8 215.7,238.9 215.7,239.9 215.8,232.6 215.8,221.2 215.9,236.5 215.9,238.3 215.9,237.8 216.0,240.0 216.0,239.3 216.1,235.2 216.1,226.3 216.2,234.1 216.2,236.8 216.3,242.7 216.3,232.9 216.4,234.2 216.4,240.6 216.4,239.9 216.5,234.3 216.5,228.6 216.6,230.7 216.6,232.9 216.7,235.8 216.7,232.3 216.8,234.1 216.8,222.3 216.9,240.1 216.9,236.0 216.9,227.2 217.0,235.4 217.0,226.4 217.1,234.2 217.1,233.2 217.2,236.0 217.2,241.4 217.3,239.2 217.3,222.1 217.4,230.5 217.4,230.7 217.5,228.9 217.5,230.9 217.5,228.5 217.6,235.4 217.6,235.2 217.7,228.7 217.7,235.8 217.8,241.1 217.8,235.2 217.9,236.9 217.9,230.7 218.0,237.8 218.0,239.6 218.0,235.7 218.1,225.6 218.1,234.2 218.2,233.1 218.2,233.9 218.3,232.3 218.3,229.0 218.4,226.5 218.4,242.7 218.5,226.6 218.5,233.9 218.5,235.6 218.6,221.1 218.6,234.8 218.7,223.5 218.7,228.7 218.8,239.4 218.8,231.3 218.9,229.9 218.9,234.5 219.0,246.3 219.0,235.7 219.1,234.9 219.1,239.8 219.1,224.1 219.2,235.2 219.2,236.0 219.3,235.5 219.3,238.0 219.4,238.0 219.4,233.3 219.5,232.2 219.5,236.5 219.6,234.3 219.6,241.2 219.6,231.0 219.7,237.8 219.7,232.7 219.8,238.6 219.8,236.6 219.9,232.7 219.9,240.3 220.0,220.7 220.0,234.0 220.1,234.2 220.1,237.7 220.1,225.3 220.2,226.4 220.2,232.2 220.3,241.1 220.3,236.5 220.4,230.5 220.4,236.5 220.5,240.1 220.5,240.1 220.6,237.9 220.6,233.7 220.7,237.2 220.7,233.7 220.7,218.9 220.8,224.3 220.8,239.3 220.9,231.9 220.9,233.3 221.0,234.5 221.0,228.2 221.1,235.5 221.1,235.5 221.2,235.7 221.2,234.3 221.2,226.9 221.3,229.6 221.3,240.8 221.4,236.1 221.4,237.9 221.5,229.4 221.5,232.5 221.6,229.0 221.6,234.0 221.7,243.8 221.7,231.3 221.7,232.5 221.8,231.0 221.8,240.6 221.9,233.3 221.9,237.3 222.0,237.3 222.0,231.8 222.1,231.8 222.1,238.4 222.2,242.7 222.2,246.8 222.3,236.7 222.3,227.7 222.3,233.9 222.4,245.6 222.4,238.2 222.5,231.4 222.5,224.8 222.6,227.4 222.6,231.7 222.7,232.6 222.7,239.2 222.8,236.0 222.8,235.3 222.8,237.7 222.9,233.2 222.9,235.6 223.0,231.8 223.0,226.0 223.1,229.6 223.1,231.3 223.2,234.8 223.2,241.6 223.3,234.1 223.3,230.6 223.3,238.8 223.4,226.9 223.4,235.3 223.5,231.5 223.5,235.2 223.6,240.1 223.6,222.5 223.7,239.6 223.7,228.6 223.8,236.4 223.8,232.0 223.9,237.7 223.9,235.6 223.9,228.6 224.0,223.1 224.0,237.9 224.1,233.4 224.1,228.4 224.2,236.7 224.2,229.6 224.3,237.5 224.3,230.2 224.4,231.1 224.4,227.0 224.4,231.4 224.5,239.7 224.5,229.8 224.6,239.2 224.6,229.4 224.7,225.4 224.7,230.2 224.8,236.2 224.8,227.0 224.9,232.4 224.9,239.9 224.9,235.2 225.0,225.8 225.0,234.9 225.1,232.6 225.1,235.1 225.2,242.2 225.2,236.0 225.3,231.4 225.3,232.2 225.4,234.2 225.4,244.5 225.5,226.8 225.5,229.4 225.5,227.8 225.6,226.4 225.6,235.6 225.7,236.4 225.7,231.5 225.8,224.4 225.8,242.1 225.9,234.4 225.9,236.9 226.0,230.2 226.0,225.4 226.0,234.7 226.1,239.7 226.1,232.9 226.2,234.6 226.2,241.3 226.3,228.5 226.3,235.9 226.4,229.5 226.4,240.0 226.5,227.3 226.5,240.7 226.5,227.5 226.6,242.6 226.6,225.8 226.7,235.0 226.7,241.3 226.8,234.3 226.8,231.3 226.9,238.3 226.9,235.6 227.0,231.6 227.0,233.9 227.1,249.2 227.1,235.3 227.1,230.8 227.2,231.4 227.2,227.7 227.3,236.6 227.3,219.6 227.4,228.8 227.4,231.3 227.5,227.3 227.5,227.9 227.6,232.4 227.6,236.2 227.6,227.6 227.7,230.7 227.7,242.9 227.8,238.7 227.8,230.5 227.9,232.3 227.9,231.4 228.0,229.5 228.0,232.1 228.1,224.6 228.1,236.0 228.1,235.0 228.2,231.2 228.2,228.9 228.3,228.7 228.3,225.0 228.4,235.4 228.4,226.7 228.5,230.4 228.5,238.3 228.6,233.5 228.6,221.9 228.7,228.7 228.7,235.3 228.7,245.4 228.8,236.7 228.8,236.5 228.9,232.4 228.9,220.6 229.0,228.9 229.0,231.1 229.1,237.7 229.1,239.0 229.2,233.8 229.2,235.2 229.2,216.9 229.3,234.9 229.3,236.0 229.4,226.8 229.4,232.3 229.5,239.2 229.5,225.9 229.6,234.3 229.6,239.6 229.7,230.9 229.7,230.0 229.7,234.4 229.8,228.9 229.8,228.2 229.9,237.1 229.9,243.3 230.0,245.0 230.0,233.1 230.1,226.0 230.1,227.1 230.2,225.1 230.2,222.6 230.3,232.3 230.3,226.8 230.3,240.3 230.4,228.7 230.4,230.2 230.5,232.7 230.5,234.5 230.6,238.0 230.6,231.4 230.7,225.4 230.7,234.0 230.8,229.3 230.8,235.6 230.8,230.7 230.9,237.3 230.9,230.0 231.0,233.1 231.0,230.3 231.1,235.1 231.1,238.1 231.2,233.6 231.2,226.5 231.3,223.6 231.3,233.5 231.3,227.6 231.4,227.8 231.4,229.7 231.5,239.9 231.5,230.0 231.6,236.8 231.6,225.5 231.7,227.5 231.7,228.4 231.8,244.9 231.8,228.4 231.9,227.9 231.9,238.3 231.9,226.5 232.0,231.1 232.0,232.5 232.1,235.2 232.1,236.8 232.2,233.7 232.2,215.2 232.3,230.3 232.3,230.3 232.4,234.7 232.4,234.6 232.4,234.2 232.5,235.9 232.5,226.7 232.6,232.7 232.6,226.7 232.7,237.2 232.7,226.3 232.8,231.3 232.8,227.6 232.9,231.7 232.9,235.7 232.9,224.7 233.0,233.3 233.0,231.8 233.1,235.6 233.1,229.9 233.2,233.0 233.2,229.5 233.3,229.1 233.3,234.5 233.4,238.3 233.4,228.6 233.5,226.0 233.5,227.2 233.5,236.8 233.6,227.6 233.6,228.7 233.7,229.2 233.7,228.5 233.8,232.4 233.8,229.5 233.9,225.8 233.9,233.3 234.0,238.1 234.0,231.1 234.0,229.5 234.1,240.2 234.1,234.0 234.2,227.4 234.2,231.3 234.3,230.0 234.3,237.0 234.4,225.7 234.4,221.2 234.5,231.4 234.5,234.2 234.5,236.4 234.6,225.6 234.6,229.7 234.7,234.4 234.7,223.9 234.8,226.2 234.8,227.0 234.9,239.4 234.9,230.7 235.0,226.8 235.0,236.5 235.1,225.2 235.1,222.6 235.1,224.6 235.2,233.8 235.2,233.7 235.3,225.0 235.3,224.7 235.4,223.5 235.4,223.6 235.5,230.4 235.5,232.0 235.6,239.5 235.6,225.7 235.6,217.9 235.7,232.2 235.7,232.2 235.8,226.3 235.8,227.7 235.9,236.8 235.9,233.3 236.0,235.3 236.0,218.9 236.1,233.2 236.1,225.0 236.1,219.4 236.2,219.5 236.2,221.9 236.3,220.8 236.3,235.7 236.4,231.1 236.4,233.0 236.5,230.7 236.5,215.5 236.6,237.9 236.6,226.2 236.7,235.5 236.7,222.0 236.7,222.2 236.8,231.6 236.8,218.1 236.9,228.5 236.9,222.0 237.0,227.2 237.0,231.7 237.1,230.7 237.1,229.3 237.2,225.5 237.2,228.0 237.2,216.3 237.3,229.6 237.3,231.0 237.4,232.3 237.4,232.6 237.5,236.0 237.5,233.6 237.6,223.7 237.6,228.0 237.7,229.2 237.7,226.5 237.8,222.7 237.8,225.0 237.8,224.2 237.9,231.1 237.9,229.5 238.0,232.2 238.0,228.6 238.1,232.3 238.1,229.9 238.2,228.9 238.2,229.1 238.3,229.3 238.3,230.4 238.3,221.0 238.4,229.6 238.4,233.1 238.5,226.7 238.5,233.4 238.6,233.3 238.6,227.2 238.7,236.3 238.7,244.4 238.8,226.0 238.8,222.1 238.8,236.2 238.9,232.1 238.9,224.4 239.0,237.7 239.0,231.9 239.1,233.6 239.1,228.3 239.2,237.5 239.2,222.5 239.3,227.9 239.3,225.6 239.4,228.8 239.4,238.2 239.4,227.8 239.5,234.0 239.5,226.9 239.6,231.4 239.6,228.6 239.7,228.0 239.7,222.8 239.8,222.8 239.8,232.0 239.9,226.8 239.9,219.1 239.9,224.1 240.0,230.5 240.0,227.2 240.1,228.4 240.1,221.6 240.2,226.3 240.2,224.5 240.3,214.9 240.3,233.6 240.4,231.7 240.4,235.4 240.4,234.6 240.5,221.8 240.5,224.8 240.6,217.7 240.6,236.5 240.7,230.8 240.7,218.7 240.8,220.8 240.8,221.5 240.9,221.6 240.9,225.9 241.0,226.1 241.0,225.9 241.0,221.7 241.1,226.9 241.1,224.3 241.2,218.4 241.2,231.8 241.3,229.9 241.3,223.0 241.4,227.3 241.4,226.7 241.5,214.9 241.5,223.7 241.5,228.0 241.6,220.1 241.6,212.6 241.7,231.5 241.7,229.2 241.8,225.1 241.8,229.0 241.9,214.3 241.9,222.9 242.0,227.7 242.0,223.0 242.0,229.7 242.1,228.7 242.1,225.0 242.2,213.1 242.2,237.2 242.3,223.3 242.3,218.4 242.4,221.6 242.4,215.4 242.5,223.0 242.5,224.6 242.6,226.0 242.6,229.8 242.6,216.8 242.7,231.5 242.7,225.9 242.8,228.0 242.8,229.3 242.9,236.8 242.9,227.2 243.0,224.5 243.0,224.4 243.1,220.7 243.1,226.0 243.1,228.4 243.2,223.5 243.2,221.6 243.3,229.7 243.3,232.9 243.4,230.3 243.4,219.4 243.5,219.7 243.5,229.5 243.6,224.3 243.6,220.5 243.6,217.9 243.7,228.3 243.7,226.1 243.8,217.4 243.8,212.2 243.9,216.8 243.9,230.7 244.0,222.4 244.0,226.2 244.1,225.0 244.1,228.1 244.2,227.1 244.2,224.7 244.2,215.2 244.3,220.9 244.3,222.3 244.4,224.4 244.4,228.4 244.5,225.7 244.5,218.0 244.6,220.1 244.6,214.2 244.7,223.0 244.7,224.5 244.7,232.8 244.8,222.3 244.8,233.3 244.9,216.3 244.9,227.6 245.0,224.2 245.0,231.3 245.1,226.8 245.1,229.0 245.2,218.3 245.2,222.8 245.2,230.3 245.3,234.2 245.3,224.4 245.4,226.6 245.4,229.9 245.5,221.0 245.5,225.1 245.6,223.5 245.6,184.5 245.7,184.5 245.7,226.5 245.8,232.5 245.8,220.9 245.8,222.1 245.9,233.1 245.9,223.6 246.0,218.2 246.0,222.9 246.1,217.4 246.1,225.6 246.2,224.2 246.2,231.0 246.3,228.9 246.3,233.7 246.3,228.9 246.4,223.0 246.4,221.5 246.5,218.2 246.5,223.6 246.6,229.4 246.6,222.0 246.7,225.0 246.7,215.0 246.8,214.1 246.8,219.3 246.8,230.2 246.9,227.0 246.9,223.3 247.0,228.0 247.0,221.6 247.1,220.7 247.1,220.0 247.2,223.1 247.2,228.9 247.3,228.7 247.3,225.0 247.4,217.4 247.4,216.2 247.4,219.3 247.5,222.5 247.5,220.9 247.6,220.1 247.6,217.7 247.7,219.9 247.7,232.4 247.8,219.4 247.8,222.4 247.9,226.8 247.9,221.7 247.9,222.9 248.0,224.7 248.0,233.2 248.1,223.9 248.1,221.6 248.2,224.7 248.2,232.7 248.3,222.1 248.3,220.7 248.4,223.5 248.4,222.3 248.4,226.3 248.5,227.9 248.5,221.8 248.6,226.4 248.6,223.6 248.7,207.6 248.7,220.8 248.8,223.8 248.8,233.0 248.9,224.0 248.9,220.6 249.0,228.2 249.0,225.8 249.0,236.3 249.1,221.7 249.1,227.7 249.2,221.0 249.2,217.5 249.3,225.4 249.3,219.5 249.4,223.3 249.4,225.7 249.5,226.1 249.5,229.1 249.5,218.0 249.6,220.1 249.6,229.9 249.7,220.3 249.7,228.5 249.8,232.5 249.8,218.4 249.9,231.3 249.9,218.5 250.0,223.7 250.0,220.0 250.0,222.0 250.1,218.7 250.1,222.9 250.2,221.7 250.2,223.5 250.3,219.1 250.3,226.9 250.4,219.6 250.4,217.1 250.5,225.3 250.5,222.7 250.6,227.7 250.6,226.6 250.6,223.8 250.7,226.9 250.7,229.8 250.8,225.4 250.8,224.3 250.9,223.6 250.9,221.7 251.0,234.6 251.0,218.1 251.1,226.4 251.1,229.5 251.1,227.5 251.2,223.3 251.2,221.1 251.3,227.6 251.3,224.9 251.4,234.1 251.4,224.9 251.5,226.4 251.5,228.1 251.6,221.3 251.6,216.6 251.6,220.6 251.7,230.1 251.7,218.1 251.8,227.8 251.8,226.4 251.9,229.2 251.9,223.9 252.0,223.4 252.0,225.6 252.1,227.4 252.1,227.1 252.2,228.5 252.2,221.4 252.2,229.2 252.3,227.3 252.3,227.7 252.4,230.5 252.4,227.9 252.5,234.3 252.5,224.6 252.6,224.0 252.6,228.4 252.7,218.8 252.7,231.2 252.7,224.1 252.8,224.5 252.8,229.8 252.9,228.3 252.9,222.5 253.0,226.8 253.0,225.7 253.1,220.0 253.1,226.1 253.2,236.0 253.2,231.2 253.2,223.1 253.3,228.1 253.3,233.1 253.4,237.8 253.4,225.9 253.5,219.8 253.5,234.1 253.6,238.9 253.6,225.1 253.7,230.5 253.7,229.3 253.8,229.5 253.8,232.5 253.8,225.6 253.9,223.2 253.9,226.1 254.0,230.9 254.0,222.7 254.1,228.7 254.1,225.1 254.2,233.0 254.2,224.8 254.3,224.4 254.3,221.6 254.3,228.2 254.4,226.1 254.4,231.4 254.5,223.9 254.5,224.5 254.6,223.0 254.6,230.6 254.7,234.9 254.7,229.0 254.8,229.8 254.8,232.6 254.8,225.7 254.9,223.9 254.9,226.8 255.0,223.2 255.0,226.9 255.1,234.0 255.1,232.0 255.2,230.9 255.2,225.6 255.3,224.4 255.3,228.5 255.4,224.0 255.4,233.5 255.4,229.9 255.5,221.6 255.5,227.1 255.6,224.0 255.6,239.2 255.7,238.1 255.7,234.0 255.8,224.4 255.8,221.3 255.9,232.8 255.9,194.1 255.9,194.1 256.0,234.4 256.0,227.0 256.1,231.5 256.1,220.2 256.2,226.2 256.2,233.5 256.3,228.8 256.3,230.8 256.4,226.0 256.4,225.5 256.4,232.0 256.5,225.6 256.5,227.3 256.6,230.7 256.6,229.0 256.7,226.9 256.7,232.0 256.8,233.9 256.8,224.0 256.9,230.5 256.9,233.6 257.0,228.2 257.0,238.2 257.0,230.4 257.1,237.7 257.1,232.9 257.2,239.9 257.2,234.5 257.3,226.3 257.3,231.8 257.4,237.2 257.4,222.1 257.5,234.3 257.5,223.5 257.5,233.8 257.6,238.6 257.6,221.7 257.7,233.4 257.7,227.3 257.8,225.1 257.8,237.9 257.9,230.8 257.9,234.2 258.0,228.2 258.0,231.3 258.0,237.7 258.1,231.0 258.1,227.4 258.2,232.8 258.2,228.5 258.3,234.1 258.3,231.7 258.4,229.6 258.4,230.7 258.5,225.0 258.5,226.6 258.6,227.2 258.6,227.8 258.6,230.7 258.7,237.5 258.7,226.1 258.8,222.7 258.8,230.4 258.9,232.9 258.9,231.8 259.0,225.5 259.0,230.2 259.1,236.7 259.1,232.6 259.1,235.6 259.2,232.7 259.2,236.3 259.3,236.2 259.3,224.2 259.4,226.4 259.4,240.0 259.5,236.8 259.5,234.1 259.6,233.8 259.6,238.9 259.6,227.4 259.7,240.1 259.7,228.4 259.8,228.4 259.8,233.8 259.9,235.3 259.9,231.7 260.0,231.3 260.0,242.7 260.1,238.4 260.1,229.4 260.2,232.6 260.2,234.2 260.2,237.2 260.3,235.7 260.3,236.0 260.4,217.9 260.4,238.6 260.5,224.4 260.5,229.8 260.6,231.1 260.6,231.3 260.7,234.2 260.7,224.1 260.7,229.7 260.8,232.5 260.8,233.0 260.9,231.3 260.9,238.2 261.0,234.0 261.0,235.6 261.1,229.3 261.1,229.4 261.2,241.9 261.2,233.6 261.2,227.5 261.3,239.1 261.3,238.5 261.4,227.5 261.4,233.2 261.5,234.9 261.5,238.8 261.6,231.7 261.6,235.5 261.7,231.6 261.7,230.5 261.8,229.1 261.8,234.3 261.8,235.4 261.9,232.6 261.9,233.3 262.0,231.9 262.0,235.5 262.1,234.0 262.1,235.8 262.2,235.8 262.2,232.1 262.3,227.0 262.3,235.6 262.3,229.9 262.4,231.2 262.4,232.4 262.5,229.5 262.5,235.8 262.6,230.1 262.6,231.5 262.7,250.8 262.7,231.2 262.8,230.0 262.8,223.1 262.8,238.5 262.9,232.6 262.9,231.3 263.0,238.1 263.0,227.1 263.1,230.9 263.1,237.3 263.2,239.3 263.2,235.4 263.3,221.2 263.3,222.3 263.4,245.9 263.4,242.6 263.4,229.9 263.5,233.9 263.5,236.6 263.6,230.3 263.6,232.9 263.7,231.9 263.7,232.1 263.8,239.0 263.8,226.8 263.9,235.8 263.9,227.7 263.9,230.0 264.0,233.3 264.0,232.8 264.1,233.8 264.1,243.0 264.2,235.3 264.2,231.4 264.3,241.9 264.3,241.3 264.4,228.2 264.4,229.6 264.4,241.6 264.5,231.4 264.5,234.0 264.6,228.8 264.6,235.4 264.7,234.9 264.7,237.7 264.8,232.9 264.8,234.5 264.9,237.2 264.9,235.7 265.0,237.8 265.0,230.7 265.0,239.2 265.1,241.9 265.1,238.9 265.2,228.5 265.2,236.6 265.3,230.7 265.3,230.3 265.4,236.7 265.4,230.2 265.5,231.5 265.5,234.3 265.5,237.8 265.6,234.5 265.6,240.7 265.7,235.6 265.7,237.2 265.8,232.0 265.8,232.5 265.9,237.5 265.9,229.8 266.0,228.2 266.0,234.0 266.1,238.1 266.1,231.8 266.1,246.9 266.2,237.4 266.2,231.4 266.3,224.2 266.3,238.2 266.4,226.6 266.4,222.5 266.5,224.8 266.5,246.6 266.6,228.9 266.6,233.6 266.6,229.4 266.7,235.5 266.7,237.8 266.8,235.8 266.8,226.9 266.9,230.3 266.9,236.2 267.0,232.7 267.0,230.3 267.1,231.8 267.1,235.0 267.1,238.1 267.2,238.6 267.2,237.0 267.3,237.7 267.3,243.0 267.4,242.1 267.4,230.3 267.5,240.7 267.5,241.7 267.6,235.1 267.6,227.5 267.7,228.4 267.7,237.1 267.7,240.3 267.8,237.8 267.8,239.7 267.9,237.9 267.9,232.6 268.0,240.6 268.0,239.1 268.1,236.5 268.1,235.3 268.2,239.1 268.2,239.2 268.2,241.0 268.3,239.1 268.3,232.5 268.4,236.5 268.4,251.3 268.5,232.1 268.5,235.6 268.6,239.8 268.6,236.6 268.7,251.0 268.7,243.9 268.7,229.3 268.8,224.3 268.8,224.1 268.9,239.2 268.9,235.2 269.0,231.4 269.0,241.8 269.1,226.5 269.1,239.3 269.2,233.7 269.2,241.5 269.3,233.7 269.3,235.7 269.3,230.0 269.4,241.6 269.4,235.7 269.5,226.2 269.5,241.9 269.6,233.9 269.6,233.4 269.7,238.3 269.7,237.1 269.8,228.4 269.8,229.9 269.8,232.9 269.9,234.4 269.9,241.7 270.0,235.4 270.0,226.6 270.1,230.4 270.1,243.0 270.2,246.7 270.2,239.4 270.3,235.1 270.3,238.8 270.3,237.6 270.4,234.2 270.4,231.4 270.5,235.0 270.5,229.6 270.6,243.5 270.6,233.7 270.7,233.9 270.7,243.9 270.8,229.6 270.8,244.5 270.9,243.7 270.9,222.3 270.9,229.5 271.0,234.3 271.0,229.2 271.1,230.3 271.1,242.1 271.2,233.8 271.2,229.0 271.3,237.1 271.3,235.9 271.4,238.7 271.4,232.5 271.4,239.2 271.5,239.4 271.5,242.8 271.6,241.2 271.6,235.2 271.7,233.9 271.7,238.4 271.8,241.9 271.8,234.6 271.9,234.6 271.9,229.8 271.9,239.0 272.0,238.6 272.0,233.8 272.1,228.5 272.1,236.8 272.2,236.9 272.2,241.4 272.3,238.5 272.3,231.6 272.4,232.1 272.4,230.7 272.5,245.2 272.5,232.2 272.5,241.4 272.6,233.5 272.6,249.0 272.7,237.1 272.7,241.3 272.8,230.0 272.8,236.0 272.9,229.9 272.9,239.0 273.0,226.4 273.0,239.0 273.0,226.8 273.1,239.3 273.1,241.9 273.2,232.0 273.2,238.8 273.3,237.1 273.3,243.8 273.4,238.6 273.4,236.2 273.5,240.5 273.5,234.8 273.5,248.9 273.6,232.2 273.6,239.0 273.7,229.1 273.7,238.7 273.8,240.3 273.8,239.3 273.9,235.4 273.9,233.8 274.0,239.4 274.0,241.1 274.1,234.7 274.1,232.6 274.1,246.1 274.2,242.5 274.2,240.5 274.3,228.0 274.3,230.5 274.4,232.8 274.4,234.4 274.5,242.9 274.5,231.1 274.6,239.4 274.6,241.3 274.6,226.9 274.7,244.7 274.7,229.8 274.8,236.1 274.8,242.0 274.9,236.2 274.9,241.6 275.0,236.2 275.0,240.6 275.1,243.4 275.1,223.2 275.1,239.8 275.2,232.0 275.2,237.5 275.3,233.7 275.3,243.9 275.4,242.7 275.4,254.5 275.5,232.0 275.5,234.9 275.6,243.5 275.6,232.9 275.7,234.2 275.7,221.9 275.7,236.1 275.8,232.5 275.8,234.1 275.9,233.3 275.9,237.5 276.0,239.6 276.0,233.7 276.1,230.9 276.1,243.6 276.2,243.4 276.2,237.7 276.2,228.0 276.3,238.6 276.3,246.4 276.4,233.2 276.4,233.5 276.5,227.3 276.5,236.5 276.6,227.1 276.6,241.3 276.7,232.8 276.7,236.8 276.7,243.9 276.8,239.0 276.8,230.6 276.9,231.7 276.9,239.6 277.0,231.8 277.0,232.9 277.1,232.9 277.1,236.1 277.2,236.1 277.2,242.0 277.3,238.0 277.3,237.0 277.3,241.6 277.4,239.2 277.4,236.9 277.5,236.6 277.5,232.2 277.6,243.2 277.6,239.9 277.7,236.4 277.7,239.8 277.8,236.1 277.8,240.3 277.8,231.6 277.9,239.0 277.9,243.8 278.0,233.9 278.0,229.1 278.1,248.0 278.1,238.6 278.2,237.5 278.2,232.5 278.3,230.0 278.3,238.8 278.3,246.1 278.4,234.4 278.4,232.7 278.5,235.5 278.5,237.6 278.6,242.3 278.6,225.2 278.7,244.3 278.7,246.0 278.8,232.9 278.8,236.5 278.9,234.5 278.9,236.2 278.9,229.2 279.0,230.6 279.0,241.0 279.1,232.8 279.1,244.3 279.2,247.1 279.2,231.8 279.3,240.4 279.3,249.5 279.4,238.3 279.4,241.7 279.4,235.5 279.5,238.5 279.5,242.3 279.6,242.0 279.6,234.2 279.7,243.1 279.7,237.6 279.8,243.5 279.8,235.9 279.9,228.9 279.9,235.3 279.9,232.4 280.0,235.9 280.0,243.4 280.1,239.9 280.1,238.0 280.2,236.1 280.2,241.5 280.3,235.2 280.3,242.2 280.4,238.1 280.4,238.5 280.5,244.5 280.5,233.2 280.5,238.2 280.6,237.9 280.6,238.6 280.7,249.5 280.7,245.9 280.8,243.2 280.8,233.3 280.9,241.6 280.9,235.3 281.0,244.0 281.0,243.0 281.0,241.0 281.1,233.0 281.1,247.3 281.2,239.5 281.2,236.5 281.3,237.9 281.3,238.7 281.4,234.5 281.4,237.1 281.5,244.0 281.5,235.3 281.5,242.8 281.6,240.5 281.6,231.1 281.7,225.9 281.7,231.1 281.8,236.5 281.8,242.8 281.9,242.8 281.9,230.0 282.0,237.0 282.0,246.1 282.1,230.6 282.1,235.8 282.1,231.9 282.2,236.7 282.2,250.2 282.3,242.7 282.3,239.6 282.4,239.8 282.4,231.0 282.5,242.4 282.5,239.4 282.6,239.2 282.6,239.4 282.6,244.4 282.7,245.4 282.7,252.5 282.8,237.2 282.8,240.1 282.9,237.9 282.9,244.5 283.0,239.0 283.0,244.1 283.1,244.4 283.1,237.3 283.1,235.7 283.2,236.0 283.2,239.3 283.3,241.1 283.3,231.7 283.4,232.6 283.4,242.4 283.5,244.8 283.5,237.2 283.6,237.4 283.6,243.9 283.7,227.1 283.7,250.1 283.7,243.5 283.8,237.9 283.8,233.9 283.9,248.9 283.9,241.4 284.0,231.6 284.0,231.8 284.1,240.5 284.1,239.0 284.2,243.8 284.2,237.1 284.2,244.7 284.3,249.8 284.3,247.2 284.4,238.9 284.4,246.1 284.5,233.4 284.5,232.5 284.6,234.0 284.6,235.8 284.7,233.3 284.7,237.8 284.7,234.7 284.8,236.8 284.8,235.1 284.9,244.6 284.9,242.7 285.0,244.5 285.0,234.9 285.1,236.6 285.1,243.4 285.2,244.4 285.2,242.3 285.3,234.7 285.3,239.9 285.3,240.5 285.4,242.9 285.4,239.9 285.5,230.9 285.5,242.9 285.6,241.1 285.6,230.4 285.7,235.5 285.7,245.3 285.8,233.6 285.8,245.9 285.8,236.4 285.9,252.6 285.9,244.5 286.0,234.5 286.0,242.5 286.1,243.1 286.1,239.1 286.2,239.3 286.2,241.8 286.3,242.9 286.3,229.9 286.3,231.5 286.4,237.6 286.4,245.4 286.5,242.1 286.5,240.9 286.6,236.8 286.6,231.0 286.7,242.1 286.7,238.6 286.8,241.7 286.8,238.7 286.9,243.0 286.9,237.4 286.9,233.3 287.0,241.5 287.0,241.1 287.1,238.8 287.1,246.3 287.2,229.9 287.2,246.5 287.3,241.3 287.3,244.1 287.4,231.6 287.4,242.0 287.4,242.1 287.5,229.6 287.5,240.1 287.6,243.6 287.6,239.5 287.7,238.5 287.7,243.4 287.8,240.5 287.8,240.6 287.9,235.7 287.9,235.5 287.9,235.1 288.0,240.2 288.0,235.3 288.1,240.6 288.1,233.5 288.2,237.4 288.2,241.8 288.3,233.1 288.3,247.5 288.4,244.6 288.4,243.7 288.5,240.2 288.5,246.0 288.5,245.9 288.6,249.5 288.6,239.0 288.7,243.6 288.7,228.1 288.8,235.5 288.8,245.6 288.9,232.7 288.9,239.0 289.0,234.0 289.0,245.4 289.0,233.5 289.1,233.9 289.1,241.8 289.2,244.1 289.2,241.6 289.3,238.3 289.3,227.0 289.4,230.2 289.4,231.8 289.5,240.8 289.5,241.4 289.5,237.7 289.6,241.1 289.6,242.1 289.7,240.8 289.7,235.3 289.8,240.0 289.8,238.4 289.9,241.1 289.9,240.7 290.0,241.4 290.0,233.1 290.1,238.5 290.1,231.9 290.1,240.6 290.2,234.2 290.2,247.0 290.3,241.8 290.3,240.1 290.4,243.1 290.4,240.3 290.5,244.6 290.5,240.6 290.6,243.3 290.6,239.8 290.6,241.3 290.7,245.0 290.7,241.9 290.8,239.6 290.8,246.5 290.9,239.3 290.9,233.3 291.0,241.0 291.0,236.9 291.1,236.6 291.1,244.0 291.1,232.9 291.2,226.7 291.2,245.2 291.3,228.6 291.3,243.5 291.4,232.2 291.4,249.3 291.5,233.9 291.5,239.1 291.6,246.6 291.6,244.2 291.7,245.4 291.7,244.6 291.7,237.9 291.8,240.8 291.8,253.0 291.9,241.5 291.9,237.4 292.0,239.4 292.0,231.1 292.1,249.5 292.1,238.6 292.2,239.8 292.2,236.1 292.2,246.9 292.3,246.8 292.3,240.8 292.4,239.5 292.4,249.4 292.5,238.0 292.5,240.0 292.6,236.1 292.6,253.6 292.7,237.3 292.7,244.6 292.7,242.5 292.8,235.9 292.8,231.1 292.9,239.2 292.9,240.6 293.0,233.1 293.0,244.7 293.1,240.8 293.1,242.7 293.2,245.2 293.2,239.0 293.3,229.4 293.3,238.7 293.3,237.4 293.4,240.2 293.4,234.1 293.5,239.1 293.5,244.7 293.6,239.5 293.6,232.5 293.7,240.5 293.7,233.8 293.8,240.4 293.8,229.5 293.8,238.6 293.9,236.7 293.9,241.6 294.0,235.7 294.0,241.3 294.1,247.8 294.1,238.5 294.2,246.4 294.2,232.4 294.3,236.0 294.3,240.0 294.3,236.5 294.4,253.7 294.4,232.1 294.5,243.5 294.5,236.6 294.6,226.7 294.6,248.6 294.7,242.3 294.7,238.4 294.8,238.0 294.8,249.0 294.9,245.0 294.9,232.4 294.9,243.3 295.0,237.3 295.0,247.4 295.1,245.0 295.1,249.7 295.2,238.8 295.2,234.1 295.3,239.7 295.3,241.6 295.4,239.0 295.4,237.8 295.4,241.7 295.5,237.3 295.5,230.0 295.6,228.6 295.6,243.2 295.7,246.9 295.7,230.2 295.8,235.1 295.8,233.9 295.9,237.1 295.9,241.5 296.0,235.2 296.0,234.4 296.0,234.1 296.1,246.0 296.1,234.9 296.2,242.1 296.2,242.2 296.3,238.5 296.3,242.1 296.4,228.2 296.4,237.4 296.5,238.9 296.5,241.3 296.5,239.0 296.6,241.5 296.6,237.3 296.7,235.8 296.7,236.0 296.8,246.9 296.8,242.1 296.9,239.9 296.9,246.8 297.0,238.4 297.0,241.1 297.0,240.1 297.1,238.4 297.1,243.7 297.2,232.3 297.2,235.0 297.3,243.3 297.3,238.0 297.4,236.6 297.4,244.5 297.5,242.3 297.5,236.8 297.6,254.0 297.6,247.4 297.6,238.8 297.7,237.2 297.7,245.4 297.8,236.0 297.8,228.9 297.9,239.4 297.9,240.7 298.0,240.2 298.0,245.8 298.1,237.7 298.1,239.6 298.1,236.7 298.2,233.1 298.2,240.4 298.3,239.6 298.3,238.9 298.4,231.5 298.4,248.2 298.5,240.6 298.5,243.9 298.6,240.0 298.6,236.3 298.6,240.3 298.7,236.8 298.7,239.7 298.8,244.4 298.8,244.1 298.9,247.9 298.9,239.5 299.0,242.8 299.0,236.3 299.1,235.6 299.1,245.3 299.2,246.4 299.2,237.6 299.2,245.3 299.3,239.6 299.3,237.6 299.4,242.8 299.4,231.4 299.5,244.8 299.5,238.6 299.6,242.9 299.6,255.9 299.7,241.7 299.7,241.6 299.7,237.8 299.8,241.5 299.8,244.6 299.9,243.5 299.9,242.4 300.0,236.9 300.0,242.3 300.1,234.4 300.1,236.4 300.2,244.8 300.2,235.5 300.2,252.7 300.3,240.8 300.3,246.0 300.4,241.4 300.4,234.9 300.5,240.9 300.5,241.8 300.6,234.3 300.6,244.9 300.7,245.3 300.7,235.9 300.8,237.8 300.8,248.4 300.8,240.2 300.9,236.9 300.9,241.8 301.0,243.1 301.0,240.3 301.1,239.9 301.1,244.7 301.2,236.7 301.2,249.3 301.3,241.4 301.3,229.9 301.3,246.6 301.4,241.3 301.4,253.0 301.5,245.4 301.5,247.1 301.6,240.8 301.6,243.7 301.7,231.5 301.7,245.9 301.8,241.3 301.8,240.0 301.8,237.8 301.9,236.5 301.9,249.3 302.0,229.7 302.0,242.8 302.1,244.9 302.1,249.8 302.2,243.5 302.2,250.5 302.3,240.2 302.3,244.4 302.4,239.5 302.4,245.4 302.4,240.9 302.5,229.6 302.5,235.1 302.6,240.4 302.6,246.4 302.7,233.6 302.7,250.1 302.8,248.7 302.8,234.5 302.9,244.4 302.9,234.3 302.9,238.3 303.0,230.0 303.0,232.0 303.1,238.3 303.1,244.7 303.2,238.3 303.2,234.0 303.3,240.7 303.3,256.5 303.4,243.4 303.4,243.3 303.4,241.7 303.5,243.3 303.5,235.5 303.6,248.1 303.6,239.2 303.7,251.8 303.7,252.8 303.8,246.8 303.8,245.4 303.9,246.2 303.9,245.2 304.0,238.3 304.0,238.5 304.0,241.1 304.1,240.5 304.1,245.2 304.2,246.7 304.2,249.0 304.3,243.7 304.3,247.5 304.4,243.3 304.4,237.8 304.5,238.7 304.5,234.7 304.5,246.5 304.6,253.1 304.6,247.4 304.7,231.2 304.7,238.0 304.8,243.9 304.8,234.8 304.9,243.8 304.9,233.0 305.0,243.8 305.0,243.8 305.0,238.1 305.1,247.7 305.1,242.6 305.2,231.6 305.2,239.4 305.3,247.5 305.3,243.1 305.4,241.9 305.4,245.7 305.5,239.6 305.5,235.3 305.6,241.5 305.6,237.2 305.6,240.3 305.7,241.1 305.7,245.7 305.8,236.8 305.8,234.8 305.9,244.2 305.9,246.4 306.0,239.1 306.0,241.3 306.1,236.0 306.1,239.3 306.1,242.6 306.2,249.1 306.2,238.7 306.3,241.4 306.3,248.5 306.4,249.7 306.4,251.4 306.5,238.7 306.5,244.2 306.6,259.3 306.6,246.5 306.6,245.3 306.7,242.6 306.7,241.8 306.8,243.8 306.8,238.1 306.9,236.7 306.9,243.2 307.0,233.8 307.0,242.7 307.1,246.5 307.1,241.2 307.2,249.5 307.2,243.6 307.2,247.6 307.3,244.3 307.3,241.0 307.4,254.9 307.4,240.0 307.5,240.7 307.5,243.2 307.6,238.4 307.6,240.3 307.7,244.0 307.7,247.4 307.7,238.3 307.8,238.2 307.8,249.8 307.9,246.0 307.9,248.3 308.0,237.9 308.0,245.2 308.1,248.7 308.1,234.3 308.2,239.8 308.2,241.0 308.2,240.9 308.3,243.2 308.3,242.1 308.4,237.6 308.4,239.9 308.5,244.7 308.5,241.8 308.6,232.5 308.6,245.2 308.7,249.2 308.7,241.7 308.8,248.3 308.8,228.6 308.8,239.1 308.9,239.3 308.9,240.4 309.0,232.1 309.0,247.7 309.1,242.6 309.1,251.1 309.2,235.9 309.2,242.8 309.3,233.1 309.3,243.8 309.3,247.8 309.4,246.1 309.4,238.2 309.5,246.7 309.5,241.1 309.6,246.2 309.6,246.1 309.7,245.4 309.7,233.9 309.8,248.1 309.8,240.8 309.8,238.2 309.9,246.3 309.9,250.3 310.0,234.6 310.0,233.4 310.1,243.8 310.1,248.8 310.2,237.9 310.2,242.7 310.3,246.8 310.3,244.5 310.4,255.0 310.4,246.8 310.4,248.9 310.5,249.4 310.5,239.5 310.6,241.1 310.6,233.7 310.7,256.6 310.7,246.0 310.8,247.0 310.8,235.6 310.9,237.1 310.9,242.0 310.9,242.1 311.0,246.5 311.0,245.3 311.1,244.9 311.1,255.8 311.2,232.7 311.2,238.8 311.3,231.7 311.3,236.2 311.4,240.0 311.4,238.3 311.4,251.5 311.5,248.0 311.5,238.2 311.6,244.7 311.6,251.2 311.7,242.8 311.7,249.5 311.8,242.7 311.8,234.5 311.9,248.7 311.9,245.1 312.0,239.8 312.0,242.9 312.0,241.8 312.1,247.2 312.1,244.5 312.2,255.3 312.2,243.7 312.3,236.0 312.3,248.7 312.4,243.8 312.4,239.1 312.5,236.4 312.5,236.7 312.5,247.5 312.6,245.0 312.6,233.6 312.7,245.3 312.7,241.3 312.8,247.3 312.8,246.3 312.9,258.5 312.9,245.7 313.0,254.4 313.0,248.2 313.0,248.0 313.1,235.7 313.1,238.9 313.2,240.8 313.2,245.6 313.3,250.2 313.3,240.4 313.4,247.3 313.4,243.5 313.5,238.0 313.5,243.9 313.6,243.1 313.6,248.2 313.6,237.4 313.7,240.2 313.7,239.2 313.8,234.4 313.8,251.5 313.9,242.8 313.9,239.6 314.0,241.2 314.0,241.4 314.1,240.5 314.1,251.1 314.1,243.4 314.2,236.9 314.2,243.3 314.3,244.1 314.3,238.6 314.4,252.3 314.4,241.0 314.5,235.0 314.5,244.4 314.6,247.4 314.6,240.3 314.6,245.5 314.7,247.4 314.7,242.2 314.8,251.8 314.8,239.6 314.9,249.4 314.9,246.0 315.0,239.3 315.0,243.3 315.1,241.7 315.1,235.9 315.2,235.1 315.2,232.1 315.2,246.0 315.3,238.3 315.3,251.9 315.4,238.9 315.4,236.3 315.5,247.0 315.5,240.7 315.6,238.7 315.6,244.0 315.7,246.5 315.7,235.2 315.7,250.1 315.8,242.3 315.8,238.2 315.9,242.0 315.9,234.9 316.0,235.4 316.0,240.7 316.1,233.9 316.1,239.3 316.2,249.7 316.2,244.9 316.2,241.8 316.3,242.2 316.3,252.2 316.4,231.1 316.4,251.5 316.5,249.2 316.5,240.9 316.6,242.2 316.6,235.2 316.7,242.1 316.7,241.3 316.8,239.4 316.8,247.2 316.8,250.1 316.9,245.7 316.9,237.9 317.0,244.8 317.0,236.7 317.1,246.2 317.1,239.3 317.2,243.2 317.2,238.9 317.3,243.3 317.3,242.3 317.3,245.8 317.4,236.8 317.4,243.5 317.5,240.7 317.5,239.9 317.6,248.1 317.6,247.7 317.7,243.6 317.7,236.7 317.8,248.9 317.8,248.8 317.8,248.6 317.9,245.5 317.9,249.0 318.0,247.7 318.0,240.6 318.1,249.2 318.1,243.5 318.2,249.6 318.2,244.5 318.3,240.7 318.3,254.0 318.4,243.2 318.4,242.3 318.4,243.8 318.5,242.1 318.5,241.3 318.6,250.3 318.6,244.1 318.7,240.1 318.7,236.7 318.8,250.7 318.8,246.6 318.9,250.7 318.9,243.6 318.9,249.1 319.0,248.7 319.0,239.4 319.1,231.7 319.1,254.4 319.2,234.9 319.2,248.4 319.3,239.9 319.3,241.7 319.4,237.0 319.4,244.6 319.4,247.9 319.5,243.9 319.5,239.4 319.6,248.3 319.6,241.4 319.7,243.6 319.7,242.6 319.8,243.5 319.8,240.4 319.9,239.4 319.9,245.1 320.0,245.4 320.0,254.9 320.0,248.2 320.1,251.6 320.1,240.1 320.2,249.3 320.2,247.3 320.3,240.8 320.3,238.4 320.4,237.2 320.4,248.1 320.5,242.4 320.5,238.0 320.5,248.1 320.6,244.9 320.6,250.1 320.7,247.0 320.7,239.9 320.8,243.2 320.8,245.6 320.9,246.6 320.9,235.7 321.0,239.7 321.0,250.2 321.0,232.3 321.1,245.9 321.1,244.5 321.2,246.3 321.2,246.7 321.3,240.4 321.3,251.3 321.4,243.6 321.4,245.5 321.5,234.6 321.5,241.7 321.6,241.5 321.6,241.0 321.6,240.6 321.7,243.1 321.7,256.6 321.8,241.5 321.8,245.5 321.9,240.1 321.9,242.2 322.0,246.7 322.0,248.5 322.1,249.1 322.1,242.3 322.1,244.4 322.2,248.5 322.2,245.7 322.3,242.0 322.3,247.3 322.4,244.5 322.4,247.0 322.5,257.5 322.5,243.4 322.6,243.5 322.6,239.6 322.6,237.0 322.7,247.7 322.7,240.8 322.8,242.5 322.8,243.5 322.9,239.5 322.9,239.3 323.0,250.5 323.0,236.2 323.1,244.8 323.1,247.4 323.2,247.5 323.2,245.1 323.2,249.8 323.3,238.2 323.3,241.7 323.4,248.7 323.4,239.6 323.5,242.7 323.5,243.5 323.6,238.9 323.6,244.4 323.7,245.3 323.7,241.3 323.7,253.5 323.8,250.2 323.8,241.3 323.9,238.3 323.9,252.8 324.0,243.9 324.0,247.4 324.1,245.4 324.1,240.8 324.2,236.1 324.2,234.7 324.2,239.0 324.3,240.6 324.3,243.2 324.4,253.7 324.4,241.9 324.5,250.2 324.5,249.8 324.6,243.3 324.6,252.2 324.7,234.7 324.7,240.8 324.8,242.1 324.8,241.4 324.8,242.7 324.9,243.6 324.9,240.3 325.0,247.5 325.0,242.5 325.1,243.1 325.1,239.9 325.2,249.7 325.2,242.7 325.3,244.6 325.3,240.7 325.3,241.1 325.4,243.0 325.4,241.6 325.5,241.6 325.5,236.8 325.6,242.4 325.6,241.2 325.7,248.9 325.7,245.0 325.8,240.0 325.8,238.5 325.9,249.1 325.9,244.2 325.9,245.4 326.0,243.7 326.0,246.5 326.1,246.2 326.1,244.3 326.2,243.3 326.2,238.7 326.3,248.4 326.3,249.0 326.4,239.9 326.4,241.4 326.4,245.0 326.5,250.0 326.5,238.5 326.6,249.6 326.6,238.1 326.7,242.7 326.7,244.8 326.8,244.9 326.8,239.7 326.9,243.9 326.9,253.1 326.9,247.6 327.0,255.2 327.0,241.9 327.1,239.2 327.1,238.6 327.2,251.0 327.2,232.9 327.3,234.5 327.3,244.6 327.4,254.4 327.4,248.6 327.5,238.6 327.5,233.2 327.5,246.8 327.6,253.6 327.6,249.1 327.7,234.0 327.7,244.0 327.8,251.3 327.8,254.9 327.9,240.7 327.9,239.8 328.0,246.5 328.0,245.1 328.0,243.6 328.1,245.8 328.1,246.9 328.2,247.0 328.2,247.1 328.3,237.6 328.3,241.9 328.4,238.7 328.4,234.4 328.5,256.0 328.5,244.4 328.5,239.0 328.6,245.2 328.6,247.2 328.7,242.0 328.7,246.8 328.8,248.4 328.8,245.6 328.9,243.8 328.9,244.0 329.0,239.4 329.0,243.9 329.1,246.5 329.1,228.2 329.1,245.2 329.2,245.5 329.2,244.8 329.3,247.7 329.3,252.3 329.4,243.0 329.4,236.4 329.5,253.5 329.5,248.0 329.6,241.8 329.6,247.6 329.6,241.3 329.7,244.3 329.7,249.8 329.8,245.2 329.8,246.8 329.9,241.2 329.9,257.3 330.0,241.9 330.0,237.1 330.1,243.3 330.1,242.8 330.1,246.9 330.2,242.3 330.2,244.8 330.3,250.8 330.3,250.3 330.4,256.2 330.4,241.8 330.5,243.2 330.5,238.4 330.6,242.7 330.6,240.5 330.7,251.1 330.7,253.8 330.7,247.1 330.8,245.8 330.8,242.2 330.9,244.8 330.9,245.0 331.0,243.9 331.0,242.8 331.1,243.0 331.1,242.4 331.2,246.7 331.2,244.6 331.2,251.8 331.3,249.9 331.3,245.5 331.4,241.9 331.4,248.0 331.5,251.4 331.5,239.1 331.6,248.5 331.6,253.1 331.7,249.2 331.7,250.3 331.7,256.7 331.8,246.1 331.8,235.3 331.9,248.0 331.9,248.4 332.0,238.1 332.0,243.7 332.1,244.6 332.1,237.0 332.2,250.3 332.2,244.4 332.3,241.5 332.3,243.1 332.3,250.2 332.4,249.0 332.4,234.8 332.5,244.6 332.5,245.5 332.6,238.5 332.6,253.5 332.7,244.4 332.7,253.3 332.8,236.9 332.8,249.3 332.8,243.5 332.9,248.9 332.9,243.5 333.0,242.5 333.0,244.1 333.1,245.8 333.1,242.8 333.2,245.4 333.2,246.8 333.3,240.8 333.3,239.7 333.3,251.2 333.4,249.4 333.4,248.2 333.5,242.6 333.5,251.4 333.6,236.0 333.6,243.9 333.7,243.3 333.7,239.6 333.8,248.0 333.8,242.2 333.9,242.0 333.9,237.4 333.9,249.6 334.0,236.9 334.0,241.0 334.1,242.8 334.1,238.6 334.2,245.4 334.2,245.1 334.3,239.8 334.3,246.0 334.4,238.5 334.4,237.0 334.4,243.0 334.5,243.2 334.5,247.5 334.6,248.9 334.6,236.6 334.7,249.5 334.7,243.7 334.8,242.6 334.8,248.8 334.9,247.7 334.9,247.8 334.9,233.1 335.0,242.2 335.0,236.9 335.1,233.6 335.1,238.9 335.2,237.3 335.2,246.4 335.3,247.7 335.3,236.6 335.4,236.5 335.4,249.4 335.5,238.2 335.5,242.6 335.5,240.0 335.6,239.1 335.6,234.2 335.7,247.3 335.7,244.1 335.8,237.5 335.8,245.4 335.9,241.3 335.9,244.5 336.0,252.9 336.0,247.0 336.0,239.5 336.1,246.9 336.1,252.1 336.2,246.7 336.2,243.5 336.3,241.5 336.3,242.3 336.4,241.3 336.4,249.6 336.5,247.2 336.5,248.1 336.5,246.3 336.6,241.8 336.6,237.1 336.7,245.3 336.7,238.6 336.8,238.3 336.8,250.0 336.9,248.3 336.9,243.3 337.0,251.2 337.0,234.3 337.1,253.8 337.1,250.4 337.1,240.0 337.2,247.9 337.2,240.4 337.3,249.2 337.3,238.6 337.4,247.1 337.4,240.3 337.5,238.8 337.5,251.8 337.6,248.7 337.6,253.1 337.6,249.8 337.7,239.3 337.7,244.2 337.8,239.6 337.8,236.7 337.9,238.7 337.9,240.3 338.0,246.3 338.0,246.1 338.1,242.4 338.1,239.5 338.1,238.4 338.2,242.5 338.2,245.5 338.3,244.4 338.3,235.4 338.4,242.6 338.4,233.6 338.5,247.7 338.5,239.5 338.6,242.9 338.6,240.1 338.7,247.9 338.7,242.3 338.7,244.4 338.8,245.5 338.8,250.2 338.9,251.4 338.9,245.8 339.0,241.2 339.0,242.7 339.1,242.8 339.1,242.3 339.2,251.0 339.2,238.5"/>
<path d="M192.90 172.50V284.75H339.70" fill="none" stroke="#1a1a1a" stroke-width="1.5" stroke-linejoin="miter"/>
<line x1="192.90" y1="284.75" x2="195.20" y2="284.75" stroke="#1a1a1a" stroke-width="1.05" stroke-linecap="butt"/>
<text x="191.30" y="287.65" font-size="8.8" text-anchor="end" fill="#000" textLength="16.38" lengthAdjust="spacingAndGlyphs">-100</text>
<line x1="192.90" y1="268.79" x2="195.20" y2="268.79" stroke="#1a1a1a" stroke-width="1.05" stroke-linecap="butt"/>
<text x="191.30" y="271.69" font-size="8.8" text-anchor="end" fill="#000" textLength="11.83" lengthAdjust="spacingAndGlyphs">-50</text>
<line x1="192.90" y1="252.82" x2="195.20" y2="252.82" stroke="#1a1a1a" stroke-width="1.05" stroke-linecap="butt"/>
<text x="191.30" y="255.72" font-size="8.8" text-anchor="end" fill="#000">0</text>
<line x1="192.90" y1="236.86" x2="195.20" y2="236.86" stroke="#1a1a1a" stroke-width="1.05" stroke-linecap="butt"/>
<text x="191.30" y="239.76" font-size="8.8" text-anchor="end" fill="#000" textLength="9.40" lengthAdjust="spacingAndGlyphs">50</text>
<line x1="192.90" y1="220.89" x2="195.20" y2="220.89" stroke="#1a1a1a" stroke-width="1.05" stroke-linecap="butt"/>
<text x="191.30" y="223.79" font-size="8.8" text-anchor="end" fill="#000" textLength="13.65" lengthAdjust="spacingAndGlyphs">100</text>
<line x1="192.90" y1="204.93" x2="195.20" y2="204.93" stroke="#1a1a1a" stroke-width="1.05" stroke-linecap="butt"/>
<text x="191.30" y="207.83" font-size="8.8" text-anchor="end" fill="#000" textLength="13.65" lengthAdjust="spacingAndGlyphs">150</text>
<line x1="192.90" y1="188.96" x2="195.20" y2="188.96" stroke="#1a1a1a" stroke-width="1.05" stroke-linecap="butt"/>
<text x="191.30" y="191.86" font-size="8.8" text-anchor="end" fill="#000" textLength="13.65" lengthAdjust="spacingAndGlyphs">200</text>
<line x1="192.90" y1="173.00" x2="195.20" y2="173.00" stroke="#1a1a1a" stroke-width="1.05" stroke-linecap="butt"/>
<text x="191.30" y="175.40" font-size="8.8" text-anchor="end" fill="#000" textLength="13.65" lengthAdjust="spacingAndGlyphs">250</text>
<line x1="192.90" y1="284.75" x2="192.90" y2="282.45" stroke="#1a1a1a" stroke-width="1.05" stroke-linecap="butt"/>
<text x="193.90" y="293.40" font-size="8.8" text-anchor="middle" fill="#000">0</text>
<line x1="229.47" y1="284.75" x2="229.47" y2="282.45" stroke="#1a1a1a" stroke-width="1.05" stroke-linecap="butt"/>
<text x="230.78" y="293.40" font-size="8.8" text-anchor="middle" fill="#000" textLength="9.10" lengthAdjust="spacingAndGlyphs">30</text>
<line x1="266.05" y1="284.75" x2="266.05" y2="282.45" stroke="#1a1a1a" stroke-width="1.05" stroke-linecap="butt"/>
<text x="267.35" y="293.40" font-size="8.8" text-anchor="middle" fill="#000" textLength="9.10" lengthAdjust="spacingAndGlyphs">60</text>
<line x1="302.62" y1="284.75" x2="302.62" y2="282.45" stroke="#1a1a1a" stroke-width="1.05" stroke-linecap="butt"/>
<text x="303.93" y="293.40" font-size="8.8" text-anchor="middle" fill="#000" textLength="9.10" lengthAdjust="spacingAndGlyphs">90</text>
<line x1="339.20" y1="284.75" x2="339.20" y2="282.45" stroke="#1a1a1a" stroke-width="1.05" stroke-linecap="butt"/>
<text x="340.50" y="293.40" font-size="8.8" text-anchor="middle" fill="#000" textLength="13.65" lengthAdjust="spacingAndGlyphs">120</text>
<text x="176.40" y="226.30" font-size="8.2" text-anchor="middle" fill="#000" textLength="52.80" lengthAdjust="spacingAndGlyphs" transform="rotate(-90 176.40 226.30)">Intensity (a.u.)</text>
<text x="268.00" y="303.00" font-size="8.8" text-anchor="middle" fill="#000" textLength="29.00" lengthAdjust="spacingAndGlyphs">Time (s)</text>
<line x1="256.90" y1="180.20" x2="267.30" y2="180.20" stroke="#2c6aab" stroke-width="1.4" stroke-linecap="butt"/>
<text y="183.5" font-size="8.8" fill="#000"><tspan x="271.1" textLength="25.4" lengthAdjust="spacingAndGlyphs">0.8 µM</tspan> <tspan x="298.6" textLength="34.1" lengthAdjust="spacingAndGlyphs">actin-cy5</tspan></text>
<text x="271.20" y="194.00" font-size="8.8" text-anchor="start" fill="#000" textLength="52.90" lengthAdjust="spacingAndGlyphs">on SpireABCD</text>
<text x="332.60" y="165.50" font-size="12.9" text-anchor="start" fill="#000" textLength="8.80" lengthAdjust="spacingAndGlyphs">G</text>
<rect x="360.80" y="175.70" width="145.80" height="109.05" fill="none" stroke="#1a1a1a" stroke-width="1.1"/>
<line x1="360.80" y1="284.75" x2="363.10" y2="284.75" stroke="#1a1a1a" stroke-width="1.05" stroke-linecap="butt"/>
<line x1="506.60" y1="284.75" x2="504.30" y2="284.75" stroke="#1a1a1a" stroke-width="1.05" stroke-linecap="butt"/>
<text x="359.20" y="287.65" font-size="8.8" text-anchor="end" fill="#000" textLength="12.58" lengthAdjust="spacingAndGlyphs">-0.5</text>
<line x1="360.80" y1="262.94" x2="363.10" y2="262.94" stroke="#1a1a1a" stroke-width="1.05" stroke-linecap="butt"/>
<line x1="506.60" y1="262.94" x2="504.30" y2="262.94" stroke="#1a1a1a" stroke-width="1.05" stroke-linecap="butt"/>
<text x="359.20" y="265.84" font-size="8.8" text-anchor="end" fill="#000">0</text>
<line x1="360.80" y1="241.13" x2="363.10" y2="241.13" stroke="#1a1a1a" stroke-width="1.05" stroke-linecap="butt"/>
<line x1="506.60" y1="241.13" x2="504.30" y2="241.13" stroke="#1a1a1a" stroke-width="1.05" stroke-linecap="butt"/>
<text x="359.20" y="244.03" font-size="8.8" text-anchor="end" fill="#000" textLength="10.40" lengthAdjust="spacingAndGlyphs">0.5</text>
<line x1="360.80" y1="219.32" x2="363.10" y2="219.32" stroke="#1a1a1a" stroke-width="1.05" stroke-linecap="butt"/>
<line x1="506.60" y1="219.32" x2="504.30" y2="219.32" stroke="#1a1a1a" stroke-width="1.05" stroke-linecap="butt"/>
<text x="359.20" y="222.22" font-size="8.8" text-anchor="end" fill="#000">1</text>
<line x1="360.80" y1="197.51" x2="363.10" y2="197.51" stroke="#1a1a1a" stroke-width="1.05" stroke-linecap="butt"/>
<line x1="506.60" y1="197.51" x2="504.30" y2="197.51" stroke="#1a1a1a" stroke-width="1.05" stroke-linecap="butt"/>
<text x="359.20" y="199.91" font-size="8.8" text-anchor="end" fill="#000" textLength="10.40" lengthAdjust="spacingAndGlyphs">1.5</text>
<line x1="360.80" y1="284.75" x2="360.80" y2="282.45" stroke="#1a1a1a" stroke-width="1.05" stroke-linecap="butt"/>
<line x1="360.80" y1="175.70" x2="360.80" y2="178.00" stroke="#1a1a1a" stroke-width="1.05" stroke-linecap="butt"/>
<line x1="389.96" y1="284.75" x2="389.96" y2="282.45" stroke="#1a1a1a" stroke-width="1.05" stroke-linecap="butt"/>
<line x1="389.96" y1="175.70" x2="389.96" y2="178.00" stroke="#1a1a1a" stroke-width="1.05" stroke-linecap="butt"/>
<line x1="419.12" y1="284.75" x2="419.12" y2="282.45" stroke="#1a1a1a" stroke-width="1.05" stroke-linecap="butt"/>
<line x1="419.12" y1="175.70" x2="419.12" y2="178.00" stroke="#1a1a1a" stroke-width="1.05" stroke-linecap="butt"/>
<line x1="448.28" y1="284.75" x2="448.28" y2="282.45" stroke="#1a1a1a" stroke-width="1.05" stroke-linecap="butt"/>
<line x1="448.28" y1="175.70" x2="448.28" y2="178.00" stroke="#1a1a1a" stroke-width="1.05" stroke-linecap="butt"/>
<line x1="477.44" y1="284.75" x2="477.44" y2="282.45" stroke="#1a1a1a" stroke-width="1.05" stroke-linecap="butt"/>
<line x1="477.44" y1="175.70" x2="477.44" y2="178.00" stroke="#1a1a1a" stroke-width="1.05" stroke-linecap="butt"/>
<line x1="506.60" y1="284.75" x2="506.60" y2="282.45" stroke="#1a1a1a" stroke-width="1.05" stroke-linecap="butt"/>
<line x1="506.60" y1="175.70" x2="506.60" y2="178.00" stroke="#1a1a1a" stroke-width="1.05" stroke-linecap="butt"/>
<text x="361.30" y="292.70" font-size="8.8" text-anchor="middle" fill="#000">0</text>
<text x="387.56" y="292.70" font-size="8.8" text-anchor="start" fill="#000" textLength="11.25" lengthAdjust="spacingAndGlyphs">0.2</text>
<text x="416.72" y="292.70" font-size="8.8" text-anchor="start" fill="#000" textLength="11.25" lengthAdjust="spacingAndGlyphs">0.4</text>
<text x="445.88" y="292.70" font-size="8.8" text-anchor="start" fill="#000" textLength="11.25" lengthAdjust="spacingAndGlyphs">0.6</text>
<text x="475.04" y="292.70" font-size="8.8" text-anchor="start" fill="#000" textLength="11.25" lengthAdjust="spacingAndGlyphs">0.8</text>
<text x="505.30" y="292.70" font-size="8.8" text-anchor="middle" fill="#000">1</text>
<line x1="364.70" y1="182.68" x2="364.70" y2="174.39" stroke="#1b5a9a" stroke-width="1.0" stroke-linecap="butt"/>
<line x1="363.10" y1="182.68" x2="366.30" y2="182.68" stroke="#1b5a9a" stroke-width="0.9" stroke-linecap="butt"/>
<line x1="363.10" y1="174.39" x2="366.30" y2="174.39" stroke="#1b5a9a" stroke-width="0.9" stroke-linecap="butt"/>
<circle cx="364.70" cy="178.54" r="1.9" fill="#1b5a9a"/>
<line x1="375.00" y1="245.06" x2="375.00" y2="187.91" stroke="#1b5a9a" stroke-width="1.0" stroke-linecap="butt"/>
<line x1="373.40" y1="245.06" x2="376.60" y2="245.06" stroke="#1b5a9a" stroke-width="0.9" stroke-linecap="butt"/>
<line x1="373.40" y1="187.91" x2="376.60" y2="187.91" stroke="#1b5a9a" stroke-width="0.9" stroke-linecap="butt"/>
<circle cx="375.00" cy="216.27" r="1.9" fill="#1b5a9a"/>
<line x1="389.60" y1="278.21" x2="389.60" y2="233.28" stroke="#1b5a9a" stroke-width="1.0" stroke-linecap="butt"/>
<line x1="388.00" y1="278.21" x2="391.20" y2="278.21" stroke="#1b5a9a" stroke-width="0.9" stroke-linecap="butt"/>
<line x1="388.00" y1="233.28" x2="391.20" y2="233.28" stroke="#1b5a9a" stroke-width="0.9" stroke-linecap="butt"/>
<circle cx="389.60" cy="255.96" r="1.9" fill="#1b5a9a"/>
<circle cx="404.20" cy="262.94" r="1.9" fill="#1b5a9a"/>
<line x1="418.80" y1="269.05" x2="418.80" y2="257.71" stroke="#1b5a9a" stroke-width="1.0" stroke-linecap="butt"/>
<line x1="417.20" y1="269.05" x2="420.40" y2="269.05" stroke="#1b5a9a" stroke-width="0.9" stroke-linecap="butt"/>
<line x1="417.20" y1="257.71" x2="420.40" y2="257.71" stroke="#1b5a9a" stroke-width="0.9" stroke-linecap="butt"/>
<circle cx="418.80" cy="262.94" r="1.9" fill="#1b5a9a"/>
<line x1="433.40" y1="271.23" x2="433.40" y2="256.83" stroke="#1b5a9a" stroke-width="1.0" stroke-linecap="butt"/>
<line x1="431.80" y1="271.23" x2="435.00" y2="271.23" stroke="#1b5a9a" stroke-width="0.9" stroke-linecap="butt"/>
<line x1="431.80" y1="256.83" x2="435.00" y2="256.83" stroke="#1b5a9a" stroke-width="0.9" stroke-linecap="butt"/>
<circle cx="433.40" cy="263.81" r="1.9" fill="#1b5a9a"/>
<circle cx="448.00" cy="262.94" r="1.9" fill="#1b5a9a"/>
<circle cx="462.60" cy="262.94" r="1.9" fill="#1b5a9a"/>
<circle cx="477.20" cy="262.94" r="1.9" fill="#1b5a9a"/>
<circle cx="491.80" cy="262.94" r="1.9" fill="#1b5a9a"/>
<circle cx="506.40" cy="262.94" r="1.9" fill="#1b5a9a"/>
<text x="347.4" y="226.1" font-size="8.6" text-anchor="middle" fill="#000" transform="rotate(-90 347.4 226.1)" textLength="65.1" lengthAdjust="spacingAndGlyphs">Average rate (s<tspan dy="-3.3" font-size="6.3">-1</tspan><tspan dy="3.3">)</tspan></text>
<text x="434.70" y="302.20" font-size="8.8" text-anchor="middle" fill="#000" textLength="58.30" lengthAdjust="spacingAndGlyphs">Monomer steps</text>
<text x="507.00" y="165.10" font-size="12.9" text-anchor="start" fill="#000" textLength="8.40" lengthAdjust="spacingAndGlyphs">H</text>
<path d="M532.20 172.50V284.75H679.00" fill="none" stroke="#1a1a1a" stroke-width="1.55" stroke-linejoin="miter"/>
<line x1="532.20" y1="284.75" x2="534.50" y2="284.75" stroke="#1a1a1a" stroke-width="1.05" stroke-linecap="butt"/>
<text x="530.60" y="287.65" font-size="8.8" text-anchor="end" fill="#000">0</text>
<line x1="532.20" y1="266.12" x2="534.50" y2="266.12" stroke="#1a1a1a" stroke-width="1.05" stroke-linecap="butt"/>
<text x="530.60" y="269.02" font-size="8.8" text-anchor="end" fill="#000" textLength="10.40" lengthAdjust="spacingAndGlyphs">0.1</text>
<line x1="532.20" y1="247.50" x2="534.50" y2="247.50" stroke="#1a1a1a" stroke-width="1.05" stroke-linecap="butt"/>
<text x="530.60" y="250.40" font-size="8.8" text-anchor="end" fill="#000" textLength="10.40" lengthAdjust="spacingAndGlyphs">0.2</text>
<line x1="532.20" y1="228.88" x2="534.50" y2="228.88" stroke="#1a1a1a" stroke-width="1.05" stroke-linecap="butt"/>
<text x="530.60" y="231.78" font-size="8.8" text-anchor="end" fill="#000" textLength="10.40" lengthAdjust="spacingAndGlyphs">0.3</text>
<line x1="532.20" y1="210.25" x2="534.50" y2="210.25" stroke="#1a1a1a" stroke-width="1.05" stroke-linecap="butt"/>
<text x="530.60" y="213.15" font-size="8.8" text-anchor="end" fill="#000" textLength="10.40" lengthAdjust="spacingAndGlyphs">0.4</text>
<line x1="532.20" y1="191.62" x2="534.50" y2="191.62" stroke="#1a1a1a" stroke-width="1.05" stroke-linecap="butt"/>
<text x="530.60" y="194.53" font-size="8.8" text-anchor="end" fill="#000" textLength="10.40" lengthAdjust="spacingAndGlyphs">0.5</text>
<line x1="532.20" y1="173.00" x2="534.50" y2="173.00" stroke="#1a1a1a" stroke-width="1.05" stroke-linecap="butt"/>
<text x="530.60" y="175.40" font-size="8.8" text-anchor="end" fill="#000" textLength="10.40" lengthAdjust="spacingAndGlyphs">0.6</text>
<line x1="560.80" y1="284.75" x2="560.80" y2="282.45" stroke="#1a1a1a" stroke-width="1.05" stroke-linecap="butt"/>
<text x="561.30" y="293.30" font-size="8.8" text-anchor="middle" fill="#000" textLength="12.08" lengthAdjust="spacingAndGlyphs" style="stroke-width:0.3px">0-1</text>
<line x1="590.25" y1="284.75" x2="590.25" y2="282.45" stroke="#1a1a1a" stroke-width="1.05" stroke-linecap="butt"/>
<text x="590.75" y="293.30" font-size="8.8" text-anchor="middle" fill="#000" textLength="12.08" lengthAdjust="spacingAndGlyphs" style="stroke-width:0.3px">1-2</text>
<line x1="619.70" y1="284.75" x2="619.70" y2="282.45" stroke="#1a1a1a" stroke-width="1.05" stroke-linecap="butt"/>
<text x="620.20" y="293.30" font-size="8.8" text-anchor="middle" fill="#000" textLength="12.08" lengthAdjust="spacingAndGlyphs" style="stroke-width:0.3px">2-3</text>
<line x1="649.15" y1="284.75" x2="649.15" y2="282.45" stroke="#1a1a1a" stroke-width="1.05" stroke-linecap="butt"/>
<text x="649.65" y="293.30" font-size="8.8" text-anchor="middle" fill="#000" textLength="12.08" lengthAdjust="spacingAndGlyphs" style="stroke-width:0.3px">3-4</text>
<line x1="678.60" y1="284.75" x2="678.60" y2="282.45" stroke="#1a1a1a" stroke-width="1.05" stroke-linecap="butt"/>
<text x="679.10" y="293.30" font-size="8.8" text-anchor="middle" fill="#000" textLength="12.08" lengthAdjust="spacingAndGlyphs" style="stroke-width:0.3px">4-5</text>
<rect x="558.90" y="277.82" width="3.80" height="3.80" fill="#1b5a9a"/>
<line x1="590.25" y1="255.14" x2="590.25" y2="251.04" stroke="#1b5a9a" stroke-width="1.1" stroke-linecap="butt"/>
<line x1="588.65" y1="255.14" x2="591.85" y2="255.14" stroke="#1b5a9a" stroke-width="0.9900000000000001" stroke-linecap="butt"/>
<line x1="588.65" y1="251.04" x2="591.85" y2="251.04" stroke="#1b5a9a" stroke-width="0.9900000000000001" stroke-linecap="butt"/>
<rect x="588.35" y="251.19" width="3.80" height="3.80" fill="#1b5a9a"/>
<rect x="617.80" y="240.38" width="3.80" height="3.80" fill="#1b5a9a"/>
<line x1="649.15" y1="230.37" x2="649.15" y2="223.66" stroke="#1b5a9a" stroke-width="1.1" stroke-linecap="butt"/>
<line x1="647.55" y1="230.37" x2="650.75" y2="230.37" stroke="#1b5a9a" stroke-width="0.9900000000000001" stroke-linecap="butt"/>
<line x1="647.55" y1="223.66" x2="650.75" y2="223.66" stroke="#1b5a9a" stroke-width="0.9900000000000001" stroke-linecap="butt"/>
<rect x="647.25" y="225.11" width="3.80" height="3.80" fill="#1b5a9a"/>
<line x1="678.60" y1="181.38" x2="678.60" y2="173.93" stroke="#1b5a9a" stroke-width="1.1" stroke-linecap="butt"/>
<line x1="677.00" y1="181.38" x2="680.20" y2="181.38" stroke="#1b5a9a" stroke-width="0.9900000000000001" stroke-linecap="butt"/>
<line x1="677.00" y1="173.93" x2="680.20" y2="173.93" stroke="#1b5a9a" stroke-width="0.9900000000000001" stroke-linecap="butt"/>
<rect x="676.70" y="175.76" width="3.80" height="3.80" fill="#1b5a9a"/>
<text x="517.9" y="229.5" font-size="8.6" text-anchor="middle" fill="#000" transform="rotate(-90 517.9 229.5)" textLength="78.4" lengthAdjust="spacingAndGlyphs">Association rate (s<tspan dy="-3.3" font-size="6.3">-1</tspan><tspan dy="3.3">)</tspan></text>
<text x="608.60" y="303.30" font-size="8.8" text-anchor="middle" fill="#000" textLength="58.60" lengthAdjust="spacingAndGlyphs">Monomer steps</text>
</svg>
</body></html>
